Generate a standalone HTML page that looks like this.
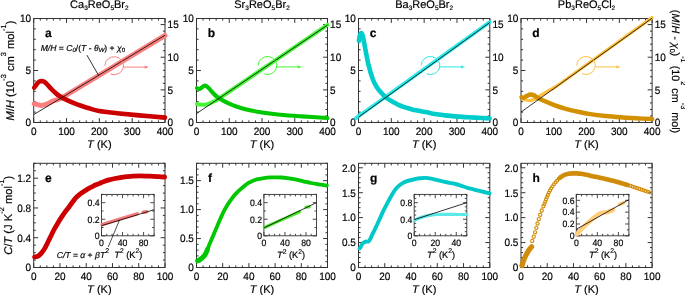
<!DOCTYPE html>
<html><head><meta charset="utf-8"><style>
html,body{margin:0;padding:0;background:#fff;width:685px;height:295px;overflow:hidden}
svg{display:block;font-family:"Liberation Sans", sans-serif;text-rendering:geometricPrecision;filter:blur(0.25px)}
text{stroke:#000;stroke-width:0.18px;paint-order:stroke}
</style></head><body>
<svg xmlns="http://www.w3.org/2000/svg" width="685" height="295" viewBox="0 0 685 295">
<rect width="685" height="295" fill="#fff"/>
<rect x="33.7" y="18.5" width="131.3" height="104" fill="none" stroke="#333" stroke-width="1.0"/>
<line x1="33.7" y1="122.5" x2="33.7" y2="118.1" stroke="#333" stroke-width="1.0" />
<line x1="33.7" y1="18.5" x2="33.7" y2="22.9" stroke="#333" stroke-width="1.0" />
<text transform="translate(33.7,134.8) scale(1,1.07)" font-size="10" text-anchor="middle" font-weight="normal" font-style="normal" fill="#000" >0</text>
<line x1="40.27" y1="122.5" x2="40.27" y2="120.4" stroke="#333" stroke-width="1.0" />
<line x1="40.27" y1="18.5" x2="40.27" y2="20.6" stroke="#333" stroke-width="1.0" />
<line x1="46.83" y1="122.5" x2="46.83" y2="120.4" stroke="#333" stroke-width="1.0" />
<line x1="46.83" y1="18.5" x2="46.83" y2="20.6" stroke="#333" stroke-width="1.0" />
<line x1="53.4" y1="122.5" x2="53.4" y2="120.4" stroke="#333" stroke-width="1.0" />
<line x1="53.4" y1="18.5" x2="53.4" y2="20.6" stroke="#333" stroke-width="1.0" />
<line x1="59.96" y1="122.5" x2="59.96" y2="120.4" stroke="#333" stroke-width="1.0" />
<line x1="59.96" y1="18.5" x2="59.96" y2="20.6" stroke="#333" stroke-width="1.0" />
<line x1="66.53" y1="122.5" x2="66.53" y2="118.1" stroke="#333" stroke-width="1.0" />
<line x1="66.53" y1="18.5" x2="66.53" y2="22.9" stroke="#333" stroke-width="1.0" />
<text transform="translate(66.53,134.8) scale(1,1.07)" font-size="10" text-anchor="middle" font-weight="normal" font-style="normal" fill="#000" >100</text>
<line x1="73.09" y1="122.5" x2="73.09" y2="120.4" stroke="#333" stroke-width="1.0" />
<line x1="73.09" y1="18.5" x2="73.09" y2="20.6" stroke="#333" stroke-width="1.0" />
<line x1="79.66" y1="122.5" x2="79.66" y2="120.4" stroke="#333" stroke-width="1.0" />
<line x1="79.66" y1="18.5" x2="79.66" y2="20.6" stroke="#333" stroke-width="1.0" />
<line x1="86.22" y1="122.5" x2="86.22" y2="120.4" stroke="#333" stroke-width="1.0" />
<line x1="86.22" y1="18.5" x2="86.22" y2="20.6" stroke="#333" stroke-width="1.0" />
<line x1="92.79" y1="122.5" x2="92.79" y2="120.4" stroke="#333" stroke-width="1.0" />
<line x1="92.79" y1="18.5" x2="92.79" y2="20.6" stroke="#333" stroke-width="1.0" />
<line x1="99.35" y1="122.5" x2="99.35" y2="118.1" stroke="#333" stroke-width="1.0" />
<line x1="99.35" y1="18.5" x2="99.35" y2="22.9" stroke="#333" stroke-width="1.0" />
<text transform="translate(99.35,134.8) scale(1,1.07)" font-size="10" text-anchor="middle" font-weight="normal" font-style="normal" fill="#000" >200</text>
<line x1="105.92" y1="122.5" x2="105.92" y2="120.4" stroke="#333" stroke-width="1.0" />
<line x1="105.92" y1="18.5" x2="105.92" y2="20.6" stroke="#333" stroke-width="1.0" />
<line x1="112.48" y1="122.5" x2="112.48" y2="120.4" stroke="#333" stroke-width="1.0" />
<line x1="112.48" y1="18.5" x2="112.48" y2="20.6" stroke="#333" stroke-width="1.0" />
<line x1="119.05" y1="122.5" x2="119.05" y2="120.4" stroke="#333" stroke-width="1.0" />
<line x1="119.05" y1="18.5" x2="119.05" y2="20.6" stroke="#333" stroke-width="1.0" />
<line x1="125.61" y1="122.5" x2="125.61" y2="120.4" stroke="#333" stroke-width="1.0" />
<line x1="125.61" y1="18.5" x2="125.61" y2="20.6" stroke="#333" stroke-width="1.0" />
<line x1="132.18" y1="122.5" x2="132.18" y2="118.1" stroke="#333" stroke-width="1.0" />
<line x1="132.18" y1="18.5" x2="132.18" y2="22.9" stroke="#333" stroke-width="1.0" />
<text transform="translate(132.18,134.8) scale(1,1.07)" font-size="10" text-anchor="middle" font-weight="normal" font-style="normal" fill="#000" >300</text>
<line x1="138.74" y1="122.5" x2="138.74" y2="120.4" stroke="#333" stroke-width="1.0" />
<line x1="138.74" y1="18.5" x2="138.74" y2="20.6" stroke="#333" stroke-width="1.0" />
<line x1="145.31" y1="122.5" x2="145.31" y2="120.4" stroke="#333" stroke-width="1.0" />
<line x1="145.31" y1="18.5" x2="145.31" y2="20.6" stroke="#333" stroke-width="1.0" />
<line x1="151.87" y1="122.5" x2="151.87" y2="120.4" stroke="#333" stroke-width="1.0" />
<line x1="151.87" y1="18.5" x2="151.87" y2="20.6" stroke="#333" stroke-width="1.0" />
<line x1="158.44" y1="122.5" x2="158.44" y2="120.4" stroke="#333" stroke-width="1.0" />
<line x1="158.44" y1="18.5" x2="158.44" y2="20.6" stroke="#333" stroke-width="1.0" />
<line x1="165" y1="122.5" x2="165" y2="118.1" stroke="#333" stroke-width="1.0" />
<line x1="165" y1="18.5" x2="165" y2="22.9" stroke="#333" stroke-width="1.0" />
<text transform="translate(165,134.8) scale(1,1.07)" font-size="10" text-anchor="middle" font-weight="normal" font-style="normal" fill="#000" >400</text>
<line x1="33.7" y1="122.5" x2="38.1" y2="122.5" stroke="#333" stroke-width="1.0" />
<text transform="translate(31.1,126.3) scale(1,1.07)" font-size="10" text-anchor="end" font-weight="normal" font-style="normal" fill="#000" >0</text>
<line x1="33.7" y1="112.1" x2="35.8" y2="112.1" stroke="#333" stroke-width="1.0" />
<line x1="33.7" y1="101.7" x2="35.8" y2="101.7" stroke="#333" stroke-width="1.0" />
<line x1="33.7" y1="91.3" x2="35.8" y2="91.3" stroke="#333" stroke-width="1.0" />
<line x1="33.7" y1="80.9" x2="35.8" y2="80.9" stroke="#333" stroke-width="1.0" />
<line x1="33.7" y1="70.5" x2="38.1" y2="70.5" stroke="#333" stroke-width="1.0" />
<text transform="translate(31.1,74.3) scale(1,1.07)" font-size="10" text-anchor="end" font-weight="normal" font-style="normal" fill="#000" >5</text>
<line x1="33.7" y1="60.1" x2="35.8" y2="60.1" stroke="#333" stroke-width="1.0" />
<line x1="33.7" y1="49.7" x2="35.8" y2="49.7" stroke="#333" stroke-width="1.0" />
<line x1="33.7" y1="39.3" x2="35.8" y2="39.3" stroke="#333" stroke-width="1.0" />
<line x1="33.7" y1="28.9" x2="35.8" y2="28.9" stroke="#333" stroke-width="1.0" />
<line x1="33.7" y1="18.5" x2="38.1" y2="18.5" stroke="#333" stroke-width="1.0" />
<text transform="translate(31.1,22.3) scale(1,1.07)" font-size="10" text-anchor="end" font-weight="normal" font-style="normal" fill="#000" >10</text>
<line x1="165" y1="122.5" x2="160.6" y2="122.5" stroke="#333" stroke-width="1.0" />
<text transform="translate(167.6,126.3) scale(1,1.07)" font-size="10" text-anchor="start" font-weight="normal" font-style="normal" fill="#000" >0</text>
<line x1="165" y1="115.97" x2="162.9" y2="115.97" stroke="#333" stroke-width="1.0" />
<line x1="165" y1="109.45" x2="162.9" y2="109.45" stroke="#333" stroke-width="1.0" />
<line x1="165" y1="102.92" x2="162.9" y2="102.92" stroke="#333" stroke-width="1.0" />
<line x1="165" y1="96.39" x2="162.9" y2="96.39" stroke="#333" stroke-width="1.0" />
<line x1="165" y1="89.87" x2="160.6" y2="89.87" stroke="#333" stroke-width="1.0" />
<text transform="translate(167.6,93.67) scale(1,1.07)" font-size="10" text-anchor="start" font-weight="normal" font-style="normal" fill="#000" >5</text>
<line x1="165" y1="83.34" x2="162.9" y2="83.34" stroke="#333" stroke-width="1.0" />
<line x1="165" y1="76.81" x2="162.9" y2="76.81" stroke="#333" stroke-width="1.0" />
<line x1="165" y1="70.29" x2="162.9" y2="70.29" stroke="#333" stroke-width="1.0" />
<line x1="165" y1="63.76" x2="162.9" y2="63.76" stroke="#333" stroke-width="1.0" />
<line x1="165" y1="57.23" x2="160.6" y2="57.23" stroke="#333" stroke-width="1.0" />
<text transform="translate(167.6,61.03) scale(1,1.07)" font-size="10" text-anchor="start" font-weight="normal" font-style="normal" fill="#000" >10</text>
<line x1="165" y1="50.71" x2="162.9" y2="50.71" stroke="#333" stroke-width="1.0" />
<line x1="165" y1="44.18" x2="162.9" y2="44.18" stroke="#333" stroke-width="1.0" />
<line x1="165" y1="37.65" x2="162.9" y2="37.65" stroke="#333" stroke-width="1.0" />
<line x1="165" y1="31.13" x2="162.9" y2="31.13" stroke="#333" stroke-width="1.0" />
<line x1="165" y1="24.6" x2="160.6" y2="24.6" stroke="#333" stroke-width="1.0" />
<text transform="translate(167.6,28.4) scale(1,1.07)" font-size="10" text-anchor="start" font-weight="normal" font-style="normal" fill="#000" >15</text>
<text x="99.35" y="7.9" font-size="11" text-anchor="middle" font-weight="normal" font-style="normal" fill="#000" >Ca<tspan font-size="6.5" dy="2.2">3</tspan><tspan dy="-2.2">ReO</tspan><tspan font-size="6.5" dy="2.2">5</tspan><tspan dy="-2.2">Br</tspan><tspan font-size="6.5" dy="2.2">2</tspan></text>
<text x="44.9" y="36.8" font-size="12" text-anchor="start" font-weight="bold" font-style="normal" fill="#000" >a</text>
<text x="99.35" y="147.6" font-size="11" text-anchor="middle" font-weight="normal" font-style="normal" fill="#000" ><tspan font-style="italic">T</tspan> (K)</text>
<rect x="196.5" y="18.5" width="131" height="104" fill="none" stroke="#333" stroke-width="1.0"/>
<line x1="196.5" y1="122.5" x2="196.5" y2="118.1" stroke="#333" stroke-width="1.0" />
<line x1="196.5" y1="18.5" x2="196.5" y2="22.9" stroke="#333" stroke-width="1.0" />
<text transform="translate(196.5,134.8) scale(1,1.07)" font-size="10" text-anchor="middle" font-weight="normal" font-style="normal" fill="#000" >0</text>
<line x1="203.05" y1="122.5" x2="203.05" y2="120.4" stroke="#333" stroke-width="1.0" />
<line x1="203.05" y1="18.5" x2="203.05" y2="20.6" stroke="#333" stroke-width="1.0" />
<line x1="209.6" y1="122.5" x2="209.6" y2="120.4" stroke="#333" stroke-width="1.0" />
<line x1="209.6" y1="18.5" x2="209.6" y2="20.6" stroke="#333" stroke-width="1.0" />
<line x1="216.15" y1="122.5" x2="216.15" y2="120.4" stroke="#333" stroke-width="1.0" />
<line x1="216.15" y1="18.5" x2="216.15" y2="20.6" stroke="#333" stroke-width="1.0" />
<line x1="222.7" y1="122.5" x2="222.7" y2="120.4" stroke="#333" stroke-width="1.0" />
<line x1="222.7" y1="18.5" x2="222.7" y2="20.6" stroke="#333" stroke-width="1.0" />
<line x1="229.25" y1="122.5" x2="229.25" y2="118.1" stroke="#333" stroke-width="1.0" />
<line x1="229.25" y1="18.5" x2="229.25" y2="22.9" stroke="#333" stroke-width="1.0" />
<text transform="translate(229.25,134.8) scale(1,1.07)" font-size="10" text-anchor="middle" font-weight="normal" font-style="normal" fill="#000" >100</text>
<line x1="235.8" y1="122.5" x2="235.8" y2="120.4" stroke="#333" stroke-width="1.0" />
<line x1="235.8" y1="18.5" x2="235.8" y2="20.6" stroke="#333" stroke-width="1.0" />
<line x1="242.35" y1="122.5" x2="242.35" y2="120.4" stroke="#333" stroke-width="1.0" />
<line x1="242.35" y1="18.5" x2="242.35" y2="20.6" stroke="#333" stroke-width="1.0" />
<line x1="248.9" y1="122.5" x2="248.9" y2="120.4" stroke="#333" stroke-width="1.0" />
<line x1="248.9" y1="18.5" x2="248.9" y2="20.6" stroke="#333" stroke-width="1.0" />
<line x1="255.45" y1="122.5" x2="255.45" y2="120.4" stroke="#333" stroke-width="1.0" />
<line x1="255.45" y1="18.5" x2="255.45" y2="20.6" stroke="#333" stroke-width="1.0" />
<line x1="262" y1="122.5" x2="262" y2="118.1" stroke="#333" stroke-width="1.0" />
<line x1="262" y1="18.5" x2="262" y2="22.9" stroke="#333" stroke-width="1.0" />
<text transform="translate(262,134.8) scale(1,1.07)" font-size="10" text-anchor="middle" font-weight="normal" font-style="normal" fill="#000" >200</text>
<line x1="268.55" y1="122.5" x2="268.55" y2="120.4" stroke="#333" stroke-width="1.0" />
<line x1="268.55" y1="18.5" x2="268.55" y2="20.6" stroke="#333" stroke-width="1.0" />
<line x1="275.1" y1="122.5" x2="275.1" y2="120.4" stroke="#333" stroke-width="1.0" />
<line x1="275.1" y1="18.5" x2="275.1" y2="20.6" stroke="#333" stroke-width="1.0" />
<line x1="281.65" y1="122.5" x2="281.65" y2="120.4" stroke="#333" stroke-width="1.0" />
<line x1="281.65" y1="18.5" x2="281.65" y2="20.6" stroke="#333" stroke-width="1.0" />
<line x1="288.2" y1="122.5" x2="288.2" y2="120.4" stroke="#333" stroke-width="1.0" />
<line x1="288.2" y1="18.5" x2="288.2" y2="20.6" stroke="#333" stroke-width="1.0" />
<line x1="294.75" y1="122.5" x2="294.75" y2="118.1" stroke="#333" stroke-width="1.0" />
<line x1="294.75" y1="18.5" x2="294.75" y2="22.9" stroke="#333" stroke-width="1.0" />
<text transform="translate(294.75,134.8) scale(1,1.07)" font-size="10" text-anchor="middle" font-weight="normal" font-style="normal" fill="#000" >300</text>
<line x1="301.3" y1="122.5" x2="301.3" y2="120.4" stroke="#333" stroke-width="1.0" />
<line x1="301.3" y1="18.5" x2="301.3" y2="20.6" stroke="#333" stroke-width="1.0" />
<line x1="307.85" y1="122.5" x2="307.85" y2="120.4" stroke="#333" stroke-width="1.0" />
<line x1="307.85" y1="18.5" x2="307.85" y2="20.6" stroke="#333" stroke-width="1.0" />
<line x1="314.4" y1="122.5" x2="314.4" y2="120.4" stroke="#333" stroke-width="1.0" />
<line x1="314.4" y1="18.5" x2="314.4" y2="20.6" stroke="#333" stroke-width="1.0" />
<line x1="320.95" y1="122.5" x2="320.95" y2="120.4" stroke="#333" stroke-width="1.0" />
<line x1="320.95" y1="18.5" x2="320.95" y2="20.6" stroke="#333" stroke-width="1.0" />
<line x1="327.5" y1="122.5" x2="327.5" y2="118.1" stroke="#333" stroke-width="1.0" />
<line x1="327.5" y1="18.5" x2="327.5" y2="22.9" stroke="#333" stroke-width="1.0" />
<text transform="translate(327.5,134.8) scale(1,1.07)" font-size="10" text-anchor="middle" font-weight="normal" font-style="normal" fill="#000" >400</text>
<line x1="196.5" y1="122.5" x2="200.9" y2="122.5" stroke="#333" stroke-width="1.0" />
<text transform="translate(193.9,126.3) scale(1,1.07)" font-size="10" text-anchor="end" font-weight="normal" font-style="normal" fill="#000" >0</text>
<line x1="196.5" y1="112.1" x2="198.6" y2="112.1" stroke="#333" stroke-width="1.0" />
<line x1="196.5" y1="101.7" x2="198.6" y2="101.7" stroke="#333" stroke-width="1.0" />
<line x1="196.5" y1="91.3" x2="198.6" y2="91.3" stroke="#333" stroke-width="1.0" />
<line x1="196.5" y1="80.9" x2="198.6" y2="80.9" stroke="#333" stroke-width="1.0" />
<line x1="196.5" y1="70.5" x2="200.9" y2="70.5" stroke="#333" stroke-width="1.0" />
<text transform="translate(193.9,74.3) scale(1,1.07)" font-size="10" text-anchor="end" font-weight="normal" font-style="normal" fill="#000" >5</text>
<line x1="196.5" y1="60.1" x2="198.6" y2="60.1" stroke="#333" stroke-width="1.0" />
<line x1="196.5" y1="49.7" x2="198.6" y2="49.7" stroke="#333" stroke-width="1.0" />
<line x1="196.5" y1="39.3" x2="198.6" y2="39.3" stroke="#333" stroke-width="1.0" />
<line x1="196.5" y1="28.9" x2="198.6" y2="28.9" stroke="#333" stroke-width="1.0" />
<line x1="196.5" y1="18.5" x2="200.9" y2="18.5" stroke="#333" stroke-width="1.0" />
<text transform="translate(193.9,22.3) scale(1,1.07)" font-size="10" text-anchor="end" font-weight="normal" font-style="normal" fill="#000" >10</text>
<line x1="327.5" y1="122.5" x2="323.1" y2="122.5" stroke="#333" stroke-width="1.0" />
<text transform="translate(330.1,126.3) scale(1,1.07)" font-size="10" text-anchor="start" font-weight="normal" font-style="normal" fill="#000" >0</text>
<line x1="327.5" y1="115.97" x2="325.4" y2="115.97" stroke="#333" stroke-width="1.0" />
<line x1="327.5" y1="109.45" x2="325.4" y2="109.45" stroke="#333" stroke-width="1.0" />
<line x1="327.5" y1="102.92" x2="325.4" y2="102.92" stroke="#333" stroke-width="1.0" />
<line x1="327.5" y1="96.39" x2="325.4" y2="96.39" stroke="#333" stroke-width="1.0" />
<line x1="327.5" y1="89.87" x2="323.1" y2="89.87" stroke="#333" stroke-width="1.0" />
<text transform="translate(330.1,93.67) scale(1,1.07)" font-size="10" text-anchor="start" font-weight="normal" font-style="normal" fill="#000" >5</text>
<line x1="327.5" y1="83.34" x2="325.4" y2="83.34" stroke="#333" stroke-width="1.0" />
<line x1="327.5" y1="76.81" x2="325.4" y2="76.81" stroke="#333" stroke-width="1.0" />
<line x1="327.5" y1="70.29" x2="325.4" y2="70.29" stroke="#333" stroke-width="1.0" />
<line x1="327.5" y1="63.76" x2="325.4" y2="63.76" stroke="#333" stroke-width="1.0" />
<line x1="327.5" y1="57.23" x2="323.1" y2="57.23" stroke="#333" stroke-width="1.0" />
<text transform="translate(330.1,61.03) scale(1,1.07)" font-size="10" text-anchor="start" font-weight="normal" font-style="normal" fill="#000" >10</text>
<line x1="327.5" y1="50.71" x2="325.4" y2="50.71" stroke="#333" stroke-width="1.0" />
<line x1="327.5" y1="44.18" x2="325.4" y2="44.18" stroke="#333" stroke-width="1.0" />
<line x1="327.5" y1="37.65" x2="325.4" y2="37.65" stroke="#333" stroke-width="1.0" />
<line x1="327.5" y1="31.13" x2="325.4" y2="31.13" stroke="#333" stroke-width="1.0" />
<line x1="327.5" y1="24.6" x2="323.1" y2="24.6" stroke="#333" stroke-width="1.0" />
<text transform="translate(330.1,28.4) scale(1,1.07)" font-size="10" text-anchor="start" font-weight="normal" font-style="normal" fill="#000" >15</text>
<text x="262" y="7.9" font-size="11" text-anchor="middle" font-weight="normal" font-style="normal" fill="#000" >Sr<tspan font-size="6.5" dy="2.2">3</tspan><tspan dy="-2.2">ReO</tspan><tspan font-size="6.5" dy="2.2">5</tspan><tspan dy="-2.2">Br</tspan><tspan font-size="6.5" dy="2.2">2</tspan></text>
<text x="207.7" y="36.8" font-size="12" text-anchor="start" font-weight="bold" font-style="normal" fill="#000" >b</text>
<text x="262" y="147.6" font-size="11" text-anchor="middle" font-weight="normal" font-style="normal" fill="#000" ><tspan font-style="italic">T</tspan> (K)</text>
<rect x="358.5" y="18.5" width="131.3" height="104" fill="none" stroke="#333" stroke-width="1.0"/>
<line x1="358.5" y1="122.5" x2="358.5" y2="118.1" stroke="#333" stroke-width="1.0" />
<line x1="358.5" y1="18.5" x2="358.5" y2="22.9" stroke="#333" stroke-width="1.0" />
<text transform="translate(358.5,134.8) scale(1,1.07)" font-size="10" text-anchor="middle" font-weight="normal" font-style="normal" fill="#000" >0</text>
<line x1="365.06" y1="122.5" x2="365.06" y2="120.4" stroke="#333" stroke-width="1.0" />
<line x1="365.06" y1="18.5" x2="365.06" y2="20.6" stroke="#333" stroke-width="1.0" />
<line x1="371.63" y1="122.5" x2="371.63" y2="120.4" stroke="#333" stroke-width="1.0" />
<line x1="371.63" y1="18.5" x2="371.63" y2="20.6" stroke="#333" stroke-width="1.0" />
<line x1="378.19" y1="122.5" x2="378.19" y2="120.4" stroke="#333" stroke-width="1.0" />
<line x1="378.19" y1="18.5" x2="378.19" y2="20.6" stroke="#333" stroke-width="1.0" />
<line x1="384.76" y1="122.5" x2="384.76" y2="120.4" stroke="#333" stroke-width="1.0" />
<line x1="384.76" y1="18.5" x2="384.76" y2="20.6" stroke="#333" stroke-width="1.0" />
<line x1="391.32" y1="122.5" x2="391.32" y2="118.1" stroke="#333" stroke-width="1.0" />
<line x1="391.32" y1="18.5" x2="391.32" y2="22.9" stroke="#333" stroke-width="1.0" />
<text transform="translate(391.32,134.8) scale(1,1.07)" font-size="10" text-anchor="middle" font-weight="normal" font-style="normal" fill="#000" >100</text>
<line x1="397.89" y1="122.5" x2="397.89" y2="120.4" stroke="#333" stroke-width="1.0" />
<line x1="397.89" y1="18.5" x2="397.89" y2="20.6" stroke="#333" stroke-width="1.0" />
<line x1="404.45" y1="122.5" x2="404.45" y2="120.4" stroke="#333" stroke-width="1.0" />
<line x1="404.45" y1="18.5" x2="404.45" y2="20.6" stroke="#333" stroke-width="1.0" />
<line x1="411.02" y1="122.5" x2="411.02" y2="120.4" stroke="#333" stroke-width="1.0" />
<line x1="411.02" y1="18.5" x2="411.02" y2="20.6" stroke="#333" stroke-width="1.0" />
<line x1="417.59" y1="122.5" x2="417.59" y2="120.4" stroke="#333" stroke-width="1.0" />
<line x1="417.59" y1="18.5" x2="417.59" y2="20.6" stroke="#333" stroke-width="1.0" />
<line x1="424.15" y1="122.5" x2="424.15" y2="118.1" stroke="#333" stroke-width="1.0" />
<line x1="424.15" y1="18.5" x2="424.15" y2="22.9" stroke="#333" stroke-width="1.0" />
<text transform="translate(424.15,134.8) scale(1,1.07)" font-size="10" text-anchor="middle" font-weight="normal" font-style="normal" fill="#000" >200</text>
<line x1="430.72" y1="122.5" x2="430.72" y2="120.4" stroke="#333" stroke-width="1.0" />
<line x1="430.72" y1="18.5" x2="430.72" y2="20.6" stroke="#333" stroke-width="1.0" />
<line x1="437.28" y1="122.5" x2="437.28" y2="120.4" stroke="#333" stroke-width="1.0" />
<line x1="437.28" y1="18.5" x2="437.28" y2="20.6" stroke="#333" stroke-width="1.0" />
<line x1="443.85" y1="122.5" x2="443.85" y2="120.4" stroke="#333" stroke-width="1.0" />
<line x1="443.85" y1="18.5" x2="443.85" y2="20.6" stroke="#333" stroke-width="1.0" />
<line x1="450.41" y1="122.5" x2="450.41" y2="120.4" stroke="#333" stroke-width="1.0" />
<line x1="450.41" y1="18.5" x2="450.41" y2="20.6" stroke="#333" stroke-width="1.0" />
<line x1="456.98" y1="122.5" x2="456.98" y2="118.1" stroke="#333" stroke-width="1.0" />
<line x1="456.98" y1="18.5" x2="456.98" y2="22.9" stroke="#333" stroke-width="1.0" />
<text transform="translate(456.98,134.8) scale(1,1.07)" font-size="10" text-anchor="middle" font-weight="normal" font-style="normal" fill="#000" >300</text>
<line x1="463.54" y1="122.5" x2="463.54" y2="120.4" stroke="#333" stroke-width="1.0" />
<line x1="463.54" y1="18.5" x2="463.54" y2="20.6" stroke="#333" stroke-width="1.0" />
<line x1="470.11" y1="122.5" x2="470.11" y2="120.4" stroke="#333" stroke-width="1.0" />
<line x1="470.11" y1="18.5" x2="470.11" y2="20.6" stroke="#333" stroke-width="1.0" />
<line x1="476.67" y1="122.5" x2="476.67" y2="120.4" stroke="#333" stroke-width="1.0" />
<line x1="476.67" y1="18.5" x2="476.67" y2="20.6" stroke="#333" stroke-width="1.0" />
<line x1="483.24" y1="122.5" x2="483.24" y2="120.4" stroke="#333" stroke-width="1.0" />
<line x1="483.24" y1="18.5" x2="483.24" y2="20.6" stroke="#333" stroke-width="1.0" />
<line x1="489.8" y1="122.5" x2="489.8" y2="118.1" stroke="#333" stroke-width="1.0" />
<line x1="489.8" y1="18.5" x2="489.8" y2="22.9" stroke="#333" stroke-width="1.0" />
<text transform="translate(489.8,134.8) scale(1,1.07)" font-size="10" text-anchor="middle" font-weight="normal" font-style="normal" fill="#000" >400</text>
<line x1="358.5" y1="122.5" x2="362.9" y2="122.5" stroke="#333" stroke-width="1.0" />
<text transform="translate(355.9,126.3) scale(1,1.07)" font-size="10" text-anchor="end" font-weight="normal" font-style="normal" fill="#000" >0</text>
<line x1="358.5" y1="112.1" x2="360.6" y2="112.1" stroke="#333" stroke-width="1.0" />
<line x1="358.5" y1="101.7" x2="360.6" y2="101.7" stroke="#333" stroke-width="1.0" />
<line x1="358.5" y1="91.3" x2="360.6" y2="91.3" stroke="#333" stroke-width="1.0" />
<line x1="358.5" y1="80.9" x2="360.6" y2="80.9" stroke="#333" stroke-width="1.0" />
<line x1="358.5" y1="70.5" x2="362.9" y2="70.5" stroke="#333" stroke-width="1.0" />
<text transform="translate(355.9,74.3) scale(1,1.07)" font-size="10" text-anchor="end" font-weight="normal" font-style="normal" fill="#000" >5</text>
<line x1="358.5" y1="60.1" x2="360.6" y2="60.1" stroke="#333" stroke-width="1.0" />
<line x1="358.5" y1="49.7" x2="360.6" y2="49.7" stroke="#333" stroke-width="1.0" />
<line x1="358.5" y1="39.3" x2="360.6" y2="39.3" stroke="#333" stroke-width="1.0" />
<line x1="358.5" y1="28.9" x2="360.6" y2="28.9" stroke="#333" stroke-width="1.0" />
<line x1="358.5" y1="18.5" x2="362.9" y2="18.5" stroke="#333" stroke-width="1.0" />
<text transform="translate(355.9,22.3) scale(1,1.07)" font-size="10" text-anchor="end" font-weight="normal" font-style="normal" fill="#000" >10</text>
<line x1="489.8" y1="122.5" x2="485.4" y2="122.5" stroke="#333" stroke-width="1.0" />
<text transform="translate(492.4,126.3) scale(1,1.07)" font-size="10" text-anchor="start" font-weight="normal" font-style="normal" fill="#000" >0</text>
<line x1="489.8" y1="115.97" x2="487.7" y2="115.97" stroke="#333" stroke-width="1.0" />
<line x1="489.8" y1="109.45" x2="487.7" y2="109.45" stroke="#333" stroke-width="1.0" />
<line x1="489.8" y1="102.92" x2="487.7" y2="102.92" stroke="#333" stroke-width="1.0" />
<line x1="489.8" y1="96.39" x2="487.7" y2="96.39" stroke="#333" stroke-width="1.0" />
<line x1="489.8" y1="89.87" x2="485.4" y2="89.87" stroke="#333" stroke-width="1.0" />
<text transform="translate(492.4,93.67) scale(1,1.07)" font-size="10" text-anchor="start" font-weight="normal" font-style="normal" fill="#000" >5</text>
<line x1="489.8" y1="83.34" x2="487.7" y2="83.34" stroke="#333" stroke-width="1.0" />
<line x1="489.8" y1="76.81" x2="487.7" y2="76.81" stroke="#333" stroke-width="1.0" />
<line x1="489.8" y1="70.29" x2="487.7" y2="70.29" stroke="#333" stroke-width="1.0" />
<line x1="489.8" y1="63.76" x2="487.7" y2="63.76" stroke="#333" stroke-width="1.0" />
<line x1="489.8" y1="57.23" x2="485.4" y2="57.23" stroke="#333" stroke-width="1.0" />
<text transform="translate(492.4,61.03) scale(1,1.07)" font-size="10" text-anchor="start" font-weight="normal" font-style="normal" fill="#000" >10</text>
<line x1="489.8" y1="50.71" x2="487.7" y2="50.71" stroke="#333" stroke-width="1.0" />
<line x1="489.8" y1="44.18" x2="487.7" y2="44.18" stroke="#333" stroke-width="1.0" />
<line x1="489.8" y1="37.65" x2="487.7" y2="37.65" stroke="#333" stroke-width="1.0" />
<line x1="489.8" y1="31.13" x2="487.7" y2="31.13" stroke="#333" stroke-width="1.0" />
<line x1="489.8" y1="24.6" x2="485.4" y2="24.6" stroke="#333" stroke-width="1.0" />
<text transform="translate(492.4,28.4) scale(1,1.07)" font-size="10" text-anchor="start" font-weight="normal" font-style="normal" fill="#000" >15</text>
<text x="424.15" y="7.9" font-size="11" text-anchor="middle" font-weight="normal" font-style="normal" fill="#000" >Ba<tspan font-size="6.5" dy="2.2">3</tspan><tspan dy="-2.2">ReO</tspan><tspan font-size="6.5" dy="2.2">5</tspan><tspan dy="-2.2">Br</tspan><tspan font-size="6.5" dy="2.2">2</tspan></text>
<text x="369.7" y="36.8" font-size="12" text-anchor="start" font-weight="bold" font-style="normal" fill="#000" >c</text>
<text x="424.15" y="147.6" font-size="11" text-anchor="middle" font-weight="normal" font-style="normal" fill="#000" ><tspan font-style="italic">T</tspan> (K)</text>
<rect x="521" y="18.5" width="131.1" height="104" fill="none" stroke="#333" stroke-width="1.0"/>
<line x1="521" y1="122.5" x2="521" y2="118.1" stroke="#333" stroke-width="1.0" />
<line x1="521" y1="18.5" x2="521" y2="22.9" stroke="#333" stroke-width="1.0" />
<text transform="translate(521,134.8) scale(1,1.07)" font-size="10" text-anchor="middle" font-weight="normal" font-style="normal" fill="#000" >0</text>
<line x1="527.55" y1="122.5" x2="527.55" y2="120.4" stroke="#333" stroke-width="1.0" />
<line x1="527.55" y1="18.5" x2="527.55" y2="20.6" stroke="#333" stroke-width="1.0" />
<line x1="534.11" y1="122.5" x2="534.11" y2="120.4" stroke="#333" stroke-width="1.0" />
<line x1="534.11" y1="18.5" x2="534.11" y2="20.6" stroke="#333" stroke-width="1.0" />
<line x1="540.66" y1="122.5" x2="540.66" y2="120.4" stroke="#333" stroke-width="1.0" />
<line x1="540.66" y1="18.5" x2="540.66" y2="20.6" stroke="#333" stroke-width="1.0" />
<line x1="547.22" y1="122.5" x2="547.22" y2="120.4" stroke="#333" stroke-width="1.0" />
<line x1="547.22" y1="18.5" x2="547.22" y2="20.6" stroke="#333" stroke-width="1.0" />
<line x1="553.77" y1="122.5" x2="553.77" y2="118.1" stroke="#333" stroke-width="1.0" />
<line x1="553.77" y1="18.5" x2="553.77" y2="22.9" stroke="#333" stroke-width="1.0" />
<text transform="translate(553.77,134.8) scale(1,1.07)" font-size="10" text-anchor="middle" font-weight="normal" font-style="normal" fill="#000" >100</text>
<line x1="560.33" y1="122.5" x2="560.33" y2="120.4" stroke="#333" stroke-width="1.0" />
<line x1="560.33" y1="18.5" x2="560.33" y2="20.6" stroke="#333" stroke-width="1.0" />
<line x1="566.88" y1="122.5" x2="566.88" y2="120.4" stroke="#333" stroke-width="1.0" />
<line x1="566.88" y1="18.5" x2="566.88" y2="20.6" stroke="#333" stroke-width="1.0" />
<line x1="573.44" y1="122.5" x2="573.44" y2="120.4" stroke="#333" stroke-width="1.0" />
<line x1="573.44" y1="18.5" x2="573.44" y2="20.6" stroke="#333" stroke-width="1.0" />
<line x1="580" y1="122.5" x2="580" y2="120.4" stroke="#333" stroke-width="1.0" />
<line x1="580" y1="18.5" x2="580" y2="20.6" stroke="#333" stroke-width="1.0" />
<line x1="586.55" y1="122.5" x2="586.55" y2="118.1" stroke="#333" stroke-width="1.0" />
<line x1="586.55" y1="18.5" x2="586.55" y2="22.9" stroke="#333" stroke-width="1.0" />
<text transform="translate(586.55,134.8) scale(1,1.07)" font-size="10" text-anchor="middle" font-weight="normal" font-style="normal" fill="#000" >200</text>
<line x1="593.11" y1="122.5" x2="593.11" y2="120.4" stroke="#333" stroke-width="1.0" />
<line x1="593.11" y1="18.5" x2="593.11" y2="20.6" stroke="#333" stroke-width="1.0" />
<line x1="599.66" y1="122.5" x2="599.66" y2="120.4" stroke="#333" stroke-width="1.0" />
<line x1="599.66" y1="18.5" x2="599.66" y2="20.6" stroke="#333" stroke-width="1.0" />
<line x1="606.22" y1="122.5" x2="606.22" y2="120.4" stroke="#333" stroke-width="1.0" />
<line x1="606.22" y1="18.5" x2="606.22" y2="20.6" stroke="#333" stroke-width="1.0" />
<line x1="612.77" y1="122.5" x2="612.77" y2="120.4" stroke="#333" stroke-width="1.0" />
<line x1="612.77" y1="18.5" x2="612.77" y2="20.6" stroke="#333" stroke-width="1.0" />
<line x1="619.33" y1="122.5" x2="619.33" y2="118.1" stroke="#333" stroke-width="1.0" />
<line x1="619.33" y1="18.5" x2="619.33" y2="22.9" stroke="#333" stroke-width="1.0" />
<text transform="translate(619.33,134.8) scale(1,1.07)" font-size="10" text-anchor="middle" font-weight="normal" font-style="normal" fill="#000" >300</text>
<line x1="625.88" y1="122.5" x2="625.88" y2="120.4" stroke="#333" stroke-width="1.0" />
<line x1="625.88" y1="18.5" x2="625.88" y2="20.6" stroke="#333" stroke-width="1.0" />
<line x1="632.44" y1="122.5" x2="632.44" y2="120.4" stroke="#333" stroke-width="1.0" />
<line x1="632.44" y1="18.5" x2="632.44" y2="20.6" stroke="#333" stroke-width="1.0" />
<line x1="638.99" y1="122.5" x2="638.99" y2="120.4" stroke="#333" stroke-width="1.0" />
<line x1="638.99" y1="18.5" x2="638.99" y2="20.6" stroke="#333" stroke-width="1.0" />
<line x1="645.55" y1="122.5" x2="645.55" y2="120.4" stroke="#333" stroke-width="1.0" />
<line x1="645.55" y1="18.5" x2="645.55" y2="20.6" stroke="#333" stroke-width="1.0" />
<line x1="652.1" y1="122.5" x2="652.1" y2="118.1" stroke="#333" stroke-width="1.0" />
<line x1="652.1" y1="18.5" x2="652.1" y2="22.9" stroke="#333" stroke-width="1.0" />
<text transform="translate(652.1,134.8) scale(1,1.07)" font-size="10" text-anchor="middle" font-weight="normal" font-style="normal" fill="#000" >400</text>
<line x1="521" y1="122.5" x2="525.4" y2="122.5" stroke="#333" stroke-width="1.0" />
<text transform="translate(518.4,126.3) scale(1,1.07)" font-size="10" text-anchor="end" font-weight="normal" font-style="normal" fill="#000" >0</text>
<line x1="521" y1="112.1" x2="523.1" y2="112.1" stroke="#333" stroke-width="1.0" />
<line x1="521" y1="101.7" x2="523.1" y2="101.7" stroke="#333" stroke-width="1.0" />
<line x1="521" y1="91.3" x2="523.1" y2="91.3" stroke="#333" stroke-width="1.0" />
<line x1="521" y1="80.9" x2="523.1" y2="80.9" stroke="#333" stroke-width="1.0" />
<line x1="521" y1="70.5" x2="525.4" y2="70.5" stroke="#333" stroke-width="1.0" />
<text transform="translate(518.4,74.3) scale(1,1.07)" font-size="10" text-anchor="end" font-weight="normal" font-style="normal" fill="#000" >5</text>
<line x1="521" y1="60.1" x2="523.1" y2="60.1" stroke="#333" stroke-width="1.0" />
<line x1="521" y1="49.7" x2="523.1" y2="49.7" stroke="#333" stroke-width="1.0" />
<line x1="521" y1="39.3" x2="523.1" y2="39.3" stroke="#333" stroke-width="1.0" />
<line x1="521" y1="28.9" x2="523.1" y2="28.9" stroke="#333" stroke-width="1.0" />
<line x1="521" y1="18.5" x2="525.4" y2="18.5" stroke="#333" stroke-width="1.0" />
<text transform="translate(518.4,22.3) scale(1,1.07)" font-size="10" text-anchor="end" font-weight="normal" font-style="normal" fill="#000" >10</text>
<line x1="652.1" y1="122.5" x2="647.7" y2="122.5" stroke="#333" stroke-width="1.0" />
<text transform="translate(654.7,126.3) scale(1,1.07)" font-size="10" text-anchor="start" font-weight="normal" font-style="normal" fill="#000" >0</text>
<line x1="652.1" y1="115.97" x2="650" y2="115.97" stroke="#333" stroke-width="1.0" />
<line x1="652.1" y1="109.45" x2="650" y2="109.45" stroke="#333" stroke-width="1.0" />
<line x1="652.1" y1="102.92" x2="650" y2="102.92" stroke="#333" stroke-width="1.0" />
<line x1="652.1" y1="96.39" x2="650" y2="96.39" stroke="#333" stroke-width="1.0" />
<line x1="652.1" y1="89.87" x2="647.7" y2="89.87" stroke="#333" stroke-width="1.0" />
<text transform="translate(654.7,93.67) scale(1,1.07)" font-size="10" text-anchor="start" font-weight="normal" font-style="normal" fill="#000" >5</text>
<line x1="652.1" y1="83.34" x2="650" y2="83.34" stroke="#333" stroke-width="1.0" />
<line x1="652.1" y1="76.81" x2="650" y2="76.81" stroke="#333" stroke-width="1.0" />
<line x1="652.1" y1="70.29" x2="650" y2="70.29" stroke="#333" stroke-width="1.0" />
<line x1="652.1" y1="63.76" x2="650" y2="63.76" stroke="#333" stroke-width="1.0" />
<line x1="652.1" y1="57.23" x2="647.7" y2="57.23" stroke="#333" stroke-width="1.0" />
<text transform="translate(654.7,61.03) scale(1,1.07)" font-size="10" text-anchor="start" font-weight="normal" font-style="normal" fill="#000" >10</text>
<line x1="652.1" y1="50.71" x2="650" y2="50.71" stroke="#333" stroke-width="1.0" />
<line x1="652.1" y1="44.18" x2="650" y2="44.18" stroke="#333" stroke-width="1.0" />
<line x1="652.1" y1="37.65" x2="650" y2="37.65" stroke="#333" stroke-width="1.0" />
<line x1="652.1" y1="31.13" x2="650" y2="31.13" stroke="#333" stroke-width="1.0" />
<line x1="652.1" y1="24.6" x2="647.7" y2="24.6" stroke="#333" stroke-width="1.0" />
<text transform="translate(654.7,28.4) scale(1,1.07)" font-size="10" text-anchor="start" font-weight="normal" font-style="normal" fill="#000" >15</text>
<text x="586.55" y="7.9" font-size="11" text-anchor="middle" font-weight="normal" font-style="normal" fill="#000" >Pb<tspan font-size="6.5" dy="2.2">3</tspan><tspan dy="-2.2">ReO</tspan><tspan font-size="6.5" dy="2.2">5</tspan><tspan dy="-2.2">Cl</tspan><tspan font-size="6.5" dy="2.2">2</tspan></text>
<text x="532.2" y="36.8" font-size="12" text-anchor="start" font-weight="bold" font-style="normal" fill="#000" >d</text>
<text x="586.55" y="147.6" font-size="11" text-anchor="middle" font-weight="normal" font-style="normal" fill="#000" ><tspan font-style="italic">T</tspan> (K)</text>
<rect x="33.7" y="163.3" width="131.3" height="104.2" fill="none" stroke="#333" stroke-width="1.0"/>
<line x1="33.7" y1="267.5" x2="33.7" y2="263.1" stroke="#333" stroke-width="1.0" />
<line x1="33.7" y1="163.3" x2="33.7" y2="167.7" stroke="#333" stroke-width="1.0" />
<text transform="translate(33.7,279.8) scale(1,1.07)" font-size="10" text-anchor="middle" font-weight="normal" font-style="normal" fill="#000" >0</text>
<line x1="40.27" y1="267.5" x2="40.27" y2="265.4" stroke="#333" stroke-width="1.0" />
<line x1="40.27" y1="163.3" x2="40.27" y2="165.4" stroke="#333" stroke-width="1.0" />
<line x1="46.83" y1="267.5" x2="46.83" y2="265.4" stroke="#333" stroke-width="1.0" />
<line x1="46.83" y1="163.3" x2="46.83" y2="165.4" stroke="#333" stroke-width="1.0" />
<line x1="53.4" y1="267.5" x2="53.4" y2="265.4" stroke="#333" stroke-width="1.0" />
<line x1="53.4" y1="163.3" x2="53.4" y2="165.4" stroke="#333" stroke-width="1.0" />
<line x1="59.96" y1="267.5" x2="59.96" y2="263.1" stroke="#333" stroke-width="1.0" />
<line x1="59.96" y1="163.3" x2="59.96" y2="167.7" stroke="#333" stroke-width="1.0" />
<text transform="translate(59.96,279.8) scale(1,1.07)" font-size="10" text-anchor="middle" font-weight="normal" font-style="normal" fill="#000" >20</text>
<line x1="66.53" y1="267.5" x2="66.53" y2="265.4" stroke="#333" stroke-width="1.0" />
<line x1="66.53" y1="163.3" x2="66.53" y2="165.4" stroke="#333" stroke-width="1.0" />
<line x1="73.09" y1="267.5" x2="73.09" y2="265.4" stroke="#333" stroke-width="1.0" />
<line x1="73.09" y1="163.3" x2="73.09" y2="165.4" stroke="#333" stroke-width="1.0" />
<line x1="79.66" y1="267.5" x2="79.66" y2="265.4" stroke="#333" stroke-width="1.0" />
<line x1="79.66" y1="163.3" x2="79.66" y2="165.4" stroke="#333" stroke-width="1.0" />
<line x1="86.22" y1="267.5" x2="86.22" y2="263.1" stroke="#333" stroke-width="1.0" />
<line x1="86.22" y1="163.3" x2="86.22" y2="167.7" stroke="#333" stroke-width="1.0" />
<text transform="translate(86.22,279.8) scale(1,1.07)" font-size="10" text-anchor="middle" font-weight="normal" font-style="normal" fill="#000" >40</text>
<line x1="92.79" y1="267.5" x2="92.79" y2="265.4" stroke="#333" stroke-width="1.0" />
<line x1="92.79" y1="163.3" x2="92.79" y2="165.4" stroke="#333" stroke-width="1.0" />
<line x1="99.35" y1="267.5" x2="99.35" y2="265.4" stroke="#333" stroke-width="1.0" />
<line x1="99.35" y1="163.3" x2="99.35" y2="165.4" stroke="#333" stroke-width="1.0" />
<line x1="105.92" y1="267.5" x2="105.92" y2="265.4" stroke="#333" stroke-width="1.0" />
<line x1="105.92" y1="163.3" x2="105.92" y2="165.4" stroke="#333" stroke-width="1.0" />
<line x1="112.48" y1="267.5" x2="112.48" y2="263.1" stroke="#333" stroke-width="1.0" />
<line x1="112.48" y1="163.3" x2="112.48" y2="167.7" stroke="#333" stroke-width="1.0" />
<text transform="translate(112.48,279.8) scale(1,1.07)" font-size="10" text-anchor="middle" font-weight="normal" font-style="normal" fill="#000" >60</text>
<line x1="119.05" y1="267.5" x2="119.05" y2="265.4" stroke="#333" stroke-width="1.0" />
<line x1="119.05" y1="163.3" x2="119.05" y2="165.4" stroke="#333" stroke-width="1.0" />
<line x1="125.61" y1="267.5" x2="125.61" y2="265.4" stroke="#333" stroke-width="1.0" />
<line x1="125.61" y1="163.3" x2="125.61" y2="165.4" stroke="#333" stroke-width="1.0" />
<line x1="132.18" y1="267.5" x2="132.18" y2="265.4" stroke="#333" stroke-width="1.0" />
<line x1="132.18" y1="163.3" x2="132.18" y2="165.4" stroke="#333" stroke-width="1.0" />
<line x1="138.74" y1="267.5" x2="138.74" y2="263.1" stroke="#333" stroke-width="1.0" />
<line x1="138.74" y1="163.3" x2="138.74" y2="167.7" stroke="#333" stroke-width="1.0" />
<text transform="translate(138.74,279.8) scale(1,1.07)" font-size="10" text-anchor="middle" font-weight="normal" font-style="normal" fill="#000" >80</text>
<line x1="145.31" y1="267.5" x2="145.31" y2="265.4" stroke="#333" stroke-width="1.0" />
<line x1="145.31" y1="163.3" x2="145.31" y2="165.4" stroke="#333" stroke-width="1.0" />
<line x1="151.87" y1="267.5" x2="151.87" y2="265.4" stroke="#333" stroke-width="1.0" />
<line x1="151.87" y1="163.3" x2="151.87" y2="165.4" stroke="#333" stroke-width="1.0" />
<line x1="158.44" y1="267.5" x2="158.44" y2="265.4" stroke="#333" stroke-width="1.0" />
<line x1="158.44" y1="163.3" x2="158.44" y2="165.4" stroke="#333" stroke-width="1.0" />
<line x1="165" y1="267.5" x2="165" y2="263.1" stroke="#333" stroke-width="1.0" />
<line x1="165" y1="163.3" x2="165" y2="167.7" stroke="#333" stroke-width="1.0" />
<text transform="translate(165,279.8) scale(1,1.07)" font-size="10" text-anchor="middle" font-weight="normal" font-style="normal" fill="#000" >100</text>
<line x1="33.7" y1="267.5" x2="38.1" y2="267.5" stroke="#333" stroke-width="1.0" />
<line x1="165" y1="267.5" x2="160.6" y2="267.5" stroke="#333" stroke-width="1.0" />
<text transform="translate(31.1,271.3) scale(1,1.07)" font-size="10" text-anchor="end" font-weight="normal" font-style="normal" fill="#000" >0</text>
<line x1="33.7" y1="260.06" x2="35.8" y2="260.06" stroke="#333" stroke-width="1.0" />
<line x1="165" y1="260.06" x2="162.9" y2="260.06" stroke="#333" stroke-width="1.0" />
<line x1="33.7" y1="252.61" x2="35.8" y2="252.61" stroke="#333" stroke-width="1.0" />
<line x1="165" y1="252.61" x2="162.9" y2="252.61" stroke="#333" stroke-width="1.0" />
<line x1="33.7" y1="245.17" x2="35.8" y2="245.17" stroke="#333" stroke-width="1.0" />
<line x1="165" y1="245.17" x2="162.9" y2="245.17" stroke="#333" stroke-width="1.0" />
<line x1="33.7" y1="237.73" x2="38.1" y2="237.73" stroke="#333" stroke-width="1.0" />
<line x1="165" y1="237.73" x2="160.6" y2="237.73" stroke="#333" stroke-width="1.0" />
<text transform="translate(31.1,241.53) scale(1,1.07)" font-size="10" text-anchor="end" font-weight="normal" font-style="normal" fill="#000" >0.4</text>
<line x1="33.7" y1="230.29" x2="35.8" y2="230.29" stroke="#333" stroke-width="1.0" />
<line x1="165" y1="230.29" x2="162.9" y2="230.29" stroke="#333" stroke-width="1.0" />
<line x1="33.7" y1="222.84" x2="35.8" y2="222.84" stroke="#333" stroke-width="1.0" />
<line x1="165" y1="222.84" x2="162.9" y2="222.84" stroke="#333" stroke-width="1.0" />
<line x1="33.7" y1="215.4" x2="35.8" y2="215.4" stroke="#333" stroke-width="1.0" />
<line x1="165" y1="215.4" x2="162.9" y2="215.4" stroke="#333" stroke-width="1.0" />
<line x1="33.7" y1="207.96" x2="38.1" y2="207.96" stroke="#333" stroke-width="1.0" />
<line x1="165" y1="207.96" x2="160.6" y2="207.96" stroke="#333" stroke-width="1.0" />
<text transform="translate(31.1,211.76) scale(1,1.07)" font-size="10" text-anchor="end" font-weight="normal" font-style="normal" fill="#000" >0.8</text>
<line x1="33.7" y1="200.51" x2="35.8" y2="200.51" stroke="#333" stroke-width="1.0" />
<line x1="165" y1="200.51" x2="162.9" y2="200.51" stroke="#333" stroke-width="1.0" />
<line x1="33.7" y1="193.07" x2="35.8" y2="193.07" stroke="#333" stroke-width="1.0" />
<line x1="165" y1="193.07" x2="162.9" y2="193.07" stroke="#333" stroke-width="1.0" />
<line x1="33.7" y1="185.63" x2="35.8" y2="185.63" stroke="#333" stroke-width="1.0" />
<line x1="165" y1="185.63" x2="162.9" y2="185.63" stroke="#333" stroke-width="1.0" />
<line x1="33.7" y1="178.19" x2="38.1" y2="178.19" stroke="#333" stroke-width="1.0" />
<line x1="165" y1="178.19" x2="160.6" y2="178.19" stroke="#333" stroke-width="1.0" />
<text transform="translate(31.1,181.98) scale(1,1.07)" font-size="10" text-anchor="end" font-weight="normal" font-style="normal" fill="#000" >1.2</text>
<line x1="33.7" y1="170.74" x2="35.8" y2="170.74" stroke="#333" stroke-width="1.0" />
<line x1="165" y1="170.74" x2="162.9" y2="170.74" stroke="#333" stroke-width="1.0" />
<line x1="33.7" y1="163.3" x2="35.8" y2="163.3" stroke="#333" stroke-width="1.0" />
<line x1="165" y1="163.3" x2="162.9" y2="163.3" stroke="#333" stroke-width="1.0" />
<text x="45.1" y="182.3" font-size="12" text-anchor="start" font-weight="bold" font-style="normal" fill="#000" >e</text>
<text x="99.35" y="292.8" font-size="11" text-anchor="middle" font-weight="normal" font-style="normal" fill="#000" ><tspan font-style="italic">T</tspan> (K)</text>
<rect x="196.5" y="163.3" width="131" height="104.2" fill="none" stroke="#333" stroke-width="1.0"/>
<line x1="196.5" y1="267.5" x2="196.5" y2="263.1" stroke="#333" stroke-width="1.0" />
<line x1="196.5" y1="163.3" x2="196.5" y2="167.7" stroke="#333" stroke-width="1.0" />
<text transform="translate(196.5,279.8) scale(1,1.07)" font-size="10" text-anchor="middle" font-weight="normal" font-style="normal" fill="#000" >0</text>
<line x1="203.05" y1="267.5" x2="203.05" y2="265.4" stroke="#333" stroke-width="1.0" />
<line x1="203.05" y1="163.3" x2="203.05" y2="165.4" stroke="#333" stroke-width="1.0" />
<line x1="209.6" y1="267.5" x2="209.6" y2="265.4" stroke="#333" stroke-width="1.0" />
<line x1="209.6" y1="163.3" x2="209.6" y2="165.4" stroke="#333" stroke-width="1.0" />
<line x1="216.15" y1="267.5" x2="216.15" y2="265.4" stroke="#333" stroke-width="1.0" />
<line x1="216.15" y1="163.3" x2="216.15" y2="165.4" stroke="#333" stroke-width="1.0" />
<line x1="222.7" y1="267.5" x2="222.7" y2="263.1" stroke="#333" stroke-width="1.0" />
<line x1="222.7" y1="163.3" x2="222.7" y2="167.7" stroke="#333" stroke-width="1.0" />
<text transform="translate(222.7,279.8) scale(1,1.07)" font-size="10" text-anchor="middle" font-weight="normal" font-style="normal" fill="#000" >20</text>
<line x1="229.25" y1="267.5" x2="229.25" y2="265.4" stroke="#333" stroke-width="1.0" />
<line x1="229.25" y1="163.3" x2="229.25" y2="165.4" stroke="#333" stroke-width="1.0" />
<line x1="235.8" y1="267.5" x2="235.8" y2="265.4" stroke="#333" stroke-width="1.0" />
<line x1="235.8" y1="163.3" x2="235.8" y2="165.4" stroke="#333" stroke-width="1.0" />
<line x1="242.35" y1="267.5" x2="242.35" y2="265.4" stroke="#333" stroke-width="1.0" />
<line x1="242.35" y1="163.3" x2="242.35" y2="165.4" stroke="#333" stroke-width="1.0" />
<line x1="248.9" y1="267.5" x2="248.9" y2="263.1" stroke="#333" stroke-width="1.0" />
<line x1="248.9" y1="163.3" x2="248.9" y2="167.7" stroke="#333" stroke-width="1.0" />
<text transform="translate(248.9,279.8) scale(1,1.07)" font-size="10" text-anchor="middle" font-weight="normal" font-style="normal" fill="#000" >40</text>
<line x1="255.45" y1="267.5" x2="255.45" y2="265.4" stroke="#333" stroke-width="1.0" />
<line x1="255.45" y1="163.3" x2="255.45" y2="165.4" stroke="#333" stroke-width="1.0" />
<line x1="262" y1="267.5" x2="262" y2="265.4" stroke="#333" stroke-width="1.0" />
<line x1="262" y1="163.3" x2="262" y2="165.4" stroke="#333" stroke-width="1.0" />
<line x1="268.55" y1="267.5" x2="268.55" y2="265.4" stroke="#333" stroke-width="1.0" />
<line x1="268.55" y1="163.3" x2="268.55" y2="165.4" stroke="#333" stroke-width="1.0" />
<line x1="275.1" y1="267.5" x2="275.1" y2="263.1" stroke="#333" stroke-width="1.0" />
<line x1="275.1" y1="163.3" x2="275.1" y2="167.7" stroke="#333" stroke-width="1.0" />
<text transform="translate(275.1,279.8) scale(1,1.07)" font-size="10" text-anchor="middle" font-weight="normal" font-style="normal" fill="#000" >60</text>
<line x1="281.65" y1="267.5" x2="281.65" y2="265.4" stroke="#333" stroke-width="1.0" />
<line x1="281.65" y1="163.3" x2="281.65" y2="165.4" stroke="#333" stroke-width="1.0" />
<line x1="288.2" y1="267.5" x2="288.2" y2="265.4" stroke="#333" stroke-width="1.0" />
<line x1="288.2" y1="163.3" x2="288.2" y2="165.4" stroke="#333" stroke-width="1.0" />
<line x1="294.75" y1="267.5" x2="294.75" y2="265.4" stroke="#333" stroke-width="1.0" />
<line x1="294.75" y1="163.3" x2="294.75" y2="165.4" stroke="#333" stroke-width="1.0" />
<line x1="301.3" y1="267.5" x2="301.3" y2="263.1" stroke="#333" stroke-width="1.0" />
<line x1="301.3" y1="163.3" x2="301.3" y2="167.7" stroke="#333" stroke-width="1.0" />
<text transform="translate(301.3,279.8) scale(1,1.07)" font-size="10" text-anchor="middle" font-weight="normal" font-style="normal" fill="#000" >80</text>
<line x1="307.85" y1="267.5" x2="307.85" y2="265.4" stroke="#333" stroke-width="1.0" />
<line x1="307.85" y1="163.3" x2="307.85" y2="165.4" stroke="#333" stroke-width="1.0" />
<line x1="314.4" y1="267.5" x2="314.4" y2="265.4" stroke="#333" stroke-width="1.0" />
<line x1="314.4" y1="163.3" x2="314.4" y2="165.4" stroke="#333" stroke-width="1.0" />
<line x1="320.95" y1="267.5" x2="320.95" y2="265.4" stroke="#333" stroke-width="1.0" />
<line x1="320.95" y1="163.3" x2="320.95" y2="165.4" stroke="#333" stroke-width="1.0" />
<line x1="327.5" y1="267.5" x2="327.5" y2="263.1" stroke="#333" stroke-width="1.0" />
<line x1="327.5" y1="163.3" x2="327.5" y2="167.7" stroke="#333" stroke-width="1.0" />
<text transform="translate(327.5,279.8) scale(1,1.07)" font-size="10" text-anchor="middle" font-weight="normal" font-style="normal" fill="#000" >100</text>
<line x1="196.5" y1="267.5" x2="200.9" y2="267.5" stroke="#333" stroke-width="1.0" />
<line x1="327.5" y1="267.5" x2="323.1" y2="267.5" stroke="#333" stroke-width="1.0" />
<text transform="translate(193.9,271.3) scale(1,1.07)" font-size="10" text-anchor="end" font-weight="normal" font-style="normal" fill="#000" >0</text>
<line x1="196.5" y1="261.71" x2="198.6" y2="261.71" stroke="#333" stroke-width="1.0" />
<line x1="327.5" y1="261.71" x2="325.4" y2="261.71" stroke="#333" stroke-width="1.0" />
<line x1="196.5" y1="255.92" x2="198.6" y2="255.92" stroke="#333" stroke-width="1.0" />
<line x1="327.5" y1="255.92" x2="325.4" y2="255.92" stroke="#333" stroke-width="1.0" />
<line x1="196.5" y1="250.13" x2="198.6" y2="250.13" stroke="#333" stroke-width="1.0" />
<line x1="327.5" y1="250.13" x2="325.4" y2="250.13" stroke="#333" stroke-width="1.0" />
<line x1="196.5" y1="244.34" x2="198.6" y2="244.34" stroke="#333" stroke-width="1.0" />
<line x1="327.5" y1="244.34" x2="325.4" y2="244.34" stroke="#333" stroke-width="1.0" />
<line x1="196.5" y1="238.56" x2="200.9" y2="238.56" stroke="#333" stroke-width="1.0" />
<line x1="327.5" y1="238.56" x2="323.1" y2="238.56" stroke="#333" stroke-width="1.0" />
<text transform="translate(193.9,242.35) scale(1,1.07)" font-size="10" text-anchor="end" font-weight="normal" font-style="normal" fill="#000" >0.5</text>
<line x1="196.5" y1="232.77" x2="198.6" y2="232.77" stroke="#333" stroke-width="1.0" />
<line x1="327.5" y1="232.77" x2="325.4" y2="232.77" stroke="#333" stroke-width="1.0" />
<line x1="196.5" y1="226.98" x2="198.6" y2="226.98" stroke="#333" stroke-width="1.0" />
<line x1="327.5" y1="226.98" x2="325.4" y2="226.98" stroke="#333" stroke-width="1.0" />
<line x1="196.5" y1="221.19" x2="198.6" y2="221.19" stroke="#333" stroke-width="1.0" />
<line x1="327.5" y1="221.19" x2="325.4" y2="221.19" stroke="#333" stroke-width="1.0" />
<line x1="196.5" y1="215.4" x2="198.6" y2="215.4" stroke="#333" stroke-width="1.0" />
<line x1="327.5" y1="215.4" x2="325.4" y2="215.4" stroke="#333" stroke-width="1.0" />
<line x1="196.5" y1="209.61" x2="200.9" y2="209.61" stroke="#333" stroke-width="1.0" />
<line x1="327.5" y1="209.61" x2="323.1" y2="209.61" stroke="#333" stroke-width="1.0" />
<text transform="translate(193.9,213.41) scale(1,1.07)" font-size="10" text-anchor="end" font-weight="normal" font-style="normal" fill="#000" >1.0</text>
<line x1="196.5" y1="203.82" x2="198.6" y2="203.82" stroke="#333" stroke-width="1.0" />
<line x1="327.5" y1="203.82" x2="325.4" y2="203.82" stroke="#333" stroke-width="1.0" />
<line x1="196.5" y1="198.03" x2="198.6" y2="198.03" stroke="#333" stroke-width="1.0" />
<line x1="327.5" y1="198.03" x2="325.4" y2="198.03" stroke="#333" stroke-width="1.0" />
<line x1="196.5" y1="192.24" x2="198.6" y2="192.24" stroke="#333" stroke-width="1.0" />
<line x1="327.5" y1="192.24" x2="325.4" y2="192.24" stroke="#333" stroke-width="1.0" />
<line x1="196.5" y1="186.46" x2="198.6" y2="186.46" stroke="#333" stroke-width="1.0" />
<line x1="327.5" y1="186.46" x2="325.4" y2="186.46" stroke="#333" stroke-width="1.0" />
<line x1="196.5" y1="180.67" x2="200.9" y2="180.67" stroke="#333" stroke-width="1.0" />
<line x1="327.5" y1="180.67" x2="323.1" y2="180.67" stroke="#333" stroke-width="1.0" />
<text transform="translate(193.9,184.47) scale(1,1.07)" font-size="10" text-anchor="end" font-weight="normal" font-style="normal" fill="#000" >1.5</text>
<line x1="196.5" y1="174.88" x2="198.6" y2="174.88" stroke="#333" stroke-width="1.0" />
<line x1="327.5" y1="174.88" x2="325.4" y2="174.88" stroke="#333" stroke-width="1.0" />
<line x1="196.5" y1="169.09" x2="198.6" y2="169.09" stroke="#333" stroke-width="1.0" />
<line x1="327.5" y1="169.09" x2="325.4" y2="169.09" stroke="#333" stroke-width="1.0" />
<line x1="196.5" y1="163.3" x2="198.6" y2="163.3" stroke="#333" stroke-width="1.0" />
<line x1="327.5" y1="163.3" x2="325.4" y2="163.3" stroke="#333" stroke-width="1.0" />
<text x="207.9" y="182.3" font-size="12" text-anchor="start" font-weight="bold" font-style="normal" fill="#000" >f</text>
<text x="262" y="292.8" font-size="11" text-anchor="middle" font-weight="normal" font-style="normal" fill="#000" ><tspan font-style="italic">T</tspan> (K)</text>
<rect x="358.5" y="163.3" width="131.3" height="104.2" fill="none" stroke="#333" stroke-width="1.0"/>
<line x1="358.5" y1="267.5" x2="358.5" y2="263.1" stroke="#333" stroke-width="1.0" />
<line x1="358.5" y1="163.3" x2="358.5" y2="167.7" stroke="#333" stroke-width="1.0" />
<text transform="translate(358.5,279.8) scale(1,1.07)" font-size="10" text-anchor="middle" font-weight="normal" font-style="normal" fill="#000" >0</text>
<line x1="365.06" y1="267.5" x2="365.06" y2="265.4" stroke="#333" stroke-width="1.0" />
<line x1="365.06" y1="163.3" x2="365.06" y2="165.4" stroke="#333" stroke-width="1.0" />
<line x1="371.63" y1="267.5" x2="371.63" y2="265.4" stroke="#333" stroke-width="1.0" />
<line x1="371.63" y1="163.3" x2="371.63" y2="165.4" stroke="#333" stroke-width="1.0" />
<line x1="378.19" y1="267.5" x2="378.19" y2="265.4" stroke="#333" stroke-width="1.0" />
<line x1="378.19" y1="163.3" x2="378.19" y2="165.4" stroke="#333" stroke-width="1.0" />
<line x1="384.76" y1="267.5" x2="384.76" y2="263.1" stroke="#333" stroke-width="1.0" />
<line x1="384.76" y1="163.3" x2="384.76" y2="167.7" stroke="#333" stroke-width="1.0" />
<text transform="translate(384.76,279.8) scale(1,1.07)" font-size="10" text-anchor="middle" font-weight="normal" font-style="normal" fill="#000" >20</text>
<line x1="391.32" y1="267.5" x2="391.32" y2="265.4" stroke="#333" stroke-width="1.0" />
<line x1="391.32" y1="163.3" x2="391.32" y2="165.4" stroke="#333" stroke-width="1.0" />
<line x1="397.89" y1="267.5" x2="397.89" y2="265.4" stroke="#333" stroke-width="1.0" />
<line x1="397.89" y1="163.3" x2="397.89" y2="165.4" stroke="#333" stroke-width="1.0" />
<line x1="404.45" y1="267.5" x2="404.45" y2="265.4" stroke="#333" stroke-width="1.0" />
<line x1="404.45" y1="163.3" x2="404.45" y2="165.4" stroke="#333" stroke-width="1.0" />
<line x1="411.02" y1="267.5" x2="411.02" y2="263.1" stroke="#333" stroke-width="1.0" />
<line x1="411.02" y1="163.3" x2="411.02" y2="167.7" stroke="#333" stroke-width="1.0" />
<text transform="translate(411.02,279.8) scale(1,1.07)" font-size="10" text-anchor="middle" font-weight="normal" font-style="normal" fill="#000" >40</text>
<line x1="417.59" y1="267.5" x2="417.59" y2="265.4" stroke="#333" stroke-width="1.0" />
<line x1="417.59" y1="163.3" x2="417.59" y2="165.4" stroke="#333" stroke-width="1.0" />
<line x1="424.15" y1="267.5" x2="424.15" y2="265.4" stroke="#333" stroke-width="1.0" />
<line x1="424.15" y1="163.3" x2="424.15" y2="165.4" stroke="#333" stroke-width="1.0" />
<line x1="430.72" y1="267.5" x2="430.72" y2="265.4" stroke="#333" stroke-width="1.0" />
<line x1="430.72" y1="163.3" x2="430.72" y2="165.4" stroke="#333" stroke-width="1.0" />
<line x1="437.28" y1="267.5" x2="437.28" y2="263.1" stroke="#333" stroke-width="1.0" />
<line x1="437.28" y1="163.3" x2="437.28" y2="167.7" stroke="#333" stroke-width="1.0" />
<text transform="translate(437.28,279.8) scale(1,1.07)" font-size="10" text-anchor="middle" font-weight="normal" font-style="normal" fill="#000" >60</text>
<line x1="443.85" y1="267.5" x2="443.85" y2="265.4" stroke="#333" stroke-width="1.0" />
<line x1="443.85" y1="163.3" x2="443.85" y2="165.4" stroke="#333" stroke-width="1.0" />
<line x1="450.41" y1="267.5" x2="450.41" y2="265.4" stroke="#333" stroke-width="1.0" />
<line x1="450.41" y1="163.3" x2="450.41" y2="165.4" stroke="#333" stroke-width="1.0" />
<line x1="456.98" y1="267.5" x2="456.98" y2="265.4" stroke="#333" stroke-width="1.0" />
<line x1="456.98" y1="163.3" x2="456.98" y2="165.4" stroke="#333" stroke-width="1.0" />
<line x1="463.54" y1="267.5" x2="463.54" y2="263.1" stroke="#333" stroke-width="1.0" />
<line x1="463.54" y1="163.3" x2="463.54" y2="167.7" stroke="#333" stroke-width="1.0" />
<text transform="translate(463.54,279.8) scale(1,1.07)" font-size="10" text-anchor="middle" font-weight="normal" font-style="normal" fill="#000" >80</text>
<line x1="470.11" y1="267.5" x2="470.11" y2="265.4" stroke="#333" stroke-width="1.0" />
<line x1="470.11" y1="163.3" x2="470.11" y2="165.4" stroke="#333" stroke-width="1.0" />
<line x1="476.67" y1="267.5" x2="476.67" y2="265.4" stroke="#333" stroke-width="1.0" />
<line x1="476.67" y1="163.3" x2="476.67" y2="165.4" stroke="#333" stroke-width="1.0" />
<line x1="483.24" y1="267.5" x2="483.24" y2="265.4" stroke="#333" stroke-width="1.0" />
<line x1="483.24" y1="163.3" x2="483.24" y2="165.4" stroke="#333" stroke-width="1.0" />
<line x1="489.8" y1="267.5" x2="489.8" y2="263.1" stroke="#333" stroke-width="1.0" />
<line x1="489.8" y1="163.3" x2="489.8" y2="167.7" stroke="#333" stroke-width="1.0" />
<text transform="translate(489.8,279.8) scale(1,1.07)" font-size="10" text-anchor="middle" font-weight="normal" font-style="normal" fill="#000" >100</text>
<line x1="358.5" y1="267.5" x2="362.9" y2="267.5" stroke="#333" stroke-width="1.0" />
<line x1="489.8" y1="267.5" x2="485.4" y2="267.5" stroke="#333" stroke-width="1.0" />
<text transform="translate(355.9,271.3) scale(1,1.07)" font-size="10" text-anchor="end" font-weight="normal" font-style="normal" fill="#000" >0</text>
<line x1="358.5" y1="262.51" x2="360.6" y2="262.51" stroke="#333" stroke-width="1.0" />
<line x1="489.8" y1="262.51" x2="487.7" y2="262.51" stroke="#333" stroke-width="1.0" />
<line x1="358.5" y1="257.53" x2="360.6" y2="257.53" stroke="#333" stroke-width="1.0" />
<line x1="489.8" y1="257.53" x2="487.7" y2="257.53" stroke="#333" stroke-width="1.0" />
<line x1="358.5" y1="252.54" x2="360.6" y2="252.54" stroke="#333" stroke-width="1.0" />
<line x1="489.8" y1="252.54" x2="487.7" y2="252.54" stroke="#333" stroke-width="1.0" />
<line x1="358.5" y1="247.56" x2="360.6" y2="247.56" stroke="#333" stroke-width="1.0" />
<line x1="489.8" y1="247.56" x2="487.7" y2="247.56" stroke="#333" stroke-width="1.0" />
<line x1="358.5" y1="242.57" x2="362.9" y2="242.57" stroke="#333" stroke-width="1.0" />
<line x1="489.8" y1="242.57" x2="485.4" y2="242.57" stroke="#333" stroke-width="1.0" />
<text transform="translate(355.9,246.37) scale(1,1.07)" font-size="10" text-anchor="end" font-weight="normal" font-style="normal" fill="#000" >0.5</text>
<line x1="358.5" y1="237.59" x2="360.6" y2="237.59" stroke="#333" stroke-width="1.0" />
<line x1="489.8" y1="237.59" x2="487.7" y2="237.59" stroke="#333" stroke-width="1.0" />
<line x1="358.5" y1="232.6" x2="360.6" y2="232.6" stroke="#333" stroke-width="1.0" />
<line x1="489.8" y1="232.6" x2="487.7" y2="232.6" stroke="#333" stroke-width="1.0" />
<line x1="358.5" y1="227.61" x2="360.6" y2="227.61" stroke="#333" stroke-width="1.0" />
<line x1="489.8" y1="227.61" x2="487.7" y2="227.61" stroke="#333" stroke-width="1.0" />
<line x1="358.5" y1="222.63" x2="360.6" y2="222.63" stroke="#333" stroke-width="1.0" />
<line x1="489.8" y1="222.63" x2="487.7" y2="222.63" stroke="#333" stroke-width="1.0" />
<line x1="358.5" y1="217.64" x2="362.9" y2="217.64" stroke="#333" stroke-width="1.0" />
<line x1="489.8" y1="217.64" x2="485.4" y2="217.64" stroke="#333" stroke-width="1.0" />
<text transform="translate(355.9,221.44) scale(1,1.07)" font-size="10" text-anchor="end" font-weight="normal" font-style="normal" fill="#000" >1.0</text>
<line x1="358.5" y1="212.66" x2="360.6" y2="212.66" stroke="#333" stroke-width="1.0" />
<line x1="489.8" y1="212.66" x2="487.7" y2="212.66" stroke="#333" stroke-width="1.0" />
<line x1="358.5" y1="207.67" x2="360.6" y2="207.67" stroke="#333" stroke-width="1.0" />
<line x1="489.8" y1="207.67" x2="487.7" y2="207.67" stroke="#333" stroke-width="1.0" />
<line x1="358.5" y1="202.69" x2="360.6" y2="202.69" stroke="#333" stroke-width="1.0" />
<line x1="489.8" y1="202.69" x2="487.7" y2="202.69" stroke="#333" stroke-width="1.0" />
<line x1="358.5" y1="197.7" x2="360.6" y2="197.7" stroke="#333" stroke-width="1.0" />
<line x1="489.8" y1="197.7" x2="487.7" y2="197.7" stroke="#333" stroke-width="1.0" />
<line x1="358.5" y1="192.72" x2="362.9" y2="192.72" stroke="#333" stroke-width="1.0" />
<line x1="489.8" y1="192.72" x2="485.4" y2="192.72" stroke="#333" stroke-width="1.0" />
<text transform="translate(355.9,196.51) scale(1,1.07)" font-size="10" text-anchor="end" font-weight="normal" font-style="normal" fill="#000" >1.5</text>
<line x1="358.5" y1="187.73" x2="360.6" y2="187.73" stroke="#333" stroke-width="1.0" />
<line x1="489.8" y1="187.73" x2="487.7" y2="187.73" stroke="#333" stroke-width="1.0" />
<line x1="358.5" y1="182.74" x2="360.6" y2="182.74" stroke="#333" stroke-width="1.0" />
<line x1="489.8" y1="182.74" x2="487.7" y2="182.74" stroke="#333" stroke-width="1.0" />
<line x1="358.5" y1="177.76" x2="360.6" y2="177.76" stroke="#333" stroke-width="1.0" />
<line x1="489.8" y1="177.76" x2="487.7" y2="177.76" stroke="#333" stroke-width="1.0" />
<line x1="358.5" y1="172.77" x2="360.6" y2="172.77" stroke="#333" stroke-width="1.0" />
<line x1="489.8" y1="172.77" x2="487.7" y2="172.77" stroke="#333" stroke-width="1.0" />
<line x1="358.5" y1="167.79" x2="362.9" y2="167.79" stroke="#333" stroke-width="1.0" />
<line x1="489.8" y1="167.79" x2="485.4" y2="167.79" stroke="#333" stroke-width="1.0" />
<text transform="translate(355.9,171.59) scale(1,1.07)" font-size="10" text-anchor="end" font-weight="normal" font-style="normal" fill="#000" >2.0</text>
<text x="369.9" y="182.3" font-size="12" text-anchor="start" font-weight="bold" font-style="normal" fill="#000" >g</text>
<text x="424.15" y="292.8" font-size="11" text-anchor="middle" font-weight="normal" font-style="normal" fill="#000" ><tspan font-style="italic">T</tspan> (K)</text>
<rect x="521" y="163.3" width="131.1" height="104.2" fill="none" stroke="#333" stroke-width="1.0"/>
<line x1="521" y1="267.5" x2="521" y2="263.1" stroke="#333" stroke-width="1.0" />
<line x1="521" y1="163.3" x2="521" y2="167.7" stroke="#333" stroke-width="1.0" />
<text transform="translate(521,279.8) scale(1,1.07)" font-size="10" text-anchor="middle" font-weight="normal" font-style="normal" fill="#000" >0</text>
<line x1="527.55" y1="267.5" x2="527.55" y2="265.4" stroke="#333" stroke-width="1.0" />
<line x1="527.55" y1="163.3" x2="527.55" y2="165.4" stroke="#333" stroke-width="1.0" />
<line x1="534.11" y1="267.5" x2="534.11" y2="265.4" stroke="#333" stroke-width="1.0" />
<line x1="534.11" y1="163.3" x2="534.11" y2="165.4" stroke="#333" stroke-width="1.0" />
<line x1="540.66" y1="267.5" x2="540.66" y2="265.4" stroke="#333" stroke-width="1.0" />
<line x1="540.66" y1="163.3" x2="540.66" y2="165.4" stroke="#333" stroke-width="1.0" />
<line x1="547.22" y1="267.5" x2="547.22" y2="263.1" stroke="#333" stroke-width="1.0" />
<line x1="547.22" y1="163.3" x2="547.22" y2="167.7" stroke="#333" stroke-width="1.0" />
<text transform="translate(547.22,279.8) scale(1,1.07)" font-size="10" text-anchor="middle" font-weight="normal" font-style="normal" fill="#000" >20</text>
<line x1="553.77" y1="267.5" x2="553.77" y2="265.4" stroke="#333" stroke-width="1.0" />
<line x1="553.77" y1="163.3" x2="553.77" y2="165.4" stroke="#333" stroke-width="1.0" />
<line x1="560.33" y1="267.5" x2="560.33" y2="265.4" stroke="#333" stroke-width="1.0" />
<line x1="560.33" y1="163.3" x2="560.33" y2="165.4" stroke="#333" stroke-width="1.0" />
<line x1="566.88" y1="267.5" x2="566.88" y2="265.4" stroke="#333" stroke-width="1.0" />
<line x1="566.88" y1="163.3" x2="566.88" y2="165.4" stroke="#333" stroke-width="1.0" />
<line x1="573.44" y1="267.5" x2="573.44" y2="263.1" stroke="#333" stroke-width="1.0" />
<line x1="573.44" y1="163.3" x2="573.44" y2="167.7" stroke="#333" stroke-width="1.0" />
<text transform="translate(573.44,279.8) scale(1,1.07)" font-size="10" text-anchor="middle" font-weight="normal" font-style="normal" fill="#000" >40</text>
<line x1="580" y1="267.5" x2="580" y2="265.4" stroke="#333" stroke-width="1.0" />
<line x1="580" y1="163.3" x2="580" y2="165.4" stroke="#333" stroke-width="1.0" />
<line x1="586.55" y1="267.5" x2="586.55" y2="265.4" stroke="#333" stroke-width="1.0" />
<line x1="586.55" y1="163.3" x2="586.55" y2="165.4" stroke="#333" stroke-width="1.0" />
<line x1="593.11" y1="267.5" x2="593.11" y2="265.4" stroke="#333" stroke-width="1.0" />
<line x1="593.11" y1="163.3" x2="593.11" y2="165.4" stroke="#333" stroke-width="1.0" />
<line x1="599.66" y1="267.5" x2="599.66" y2="263.1" stroke="#333" stroke-width="1.0" />
<line x1="599.66" y1="163.3" x2="599.66" y2="167.7" stroke="#333" stroke-width="1.0" />
<text transform="translate(599.66,279.8) scale(1,1.07)" font-size="10" text-anchor="middle" font-weight="normal" font-style="normal" fill="#000" >60</text>
<line x1="606.22" y1="267.5" x2="606.22" y2="265.4" stroke="#333" stroke-width="1.0" />
<line x1="606.22" y1="163.3" x2="606.22" y2="165.4" stroke="#333" stroke-width="1.0" />
<line x1="612.77" y1="267.5" x2="612.77" y2="265.4" stroke="#333" stroke-width="1.0" />
<line x1="612.77" y1="163.3" x2="612.77" y2="165.4" stroke="#333" stroke-width="1.0" />
<line x1="619.33" y1="267.5" x2="619.33" y2="265.4" stroke="#333" stroke-width="1.0" />
<line x1="619.33" y1="163.3" x2="619.33" y2="165.4" stroke="#333" stroke-width="1.0" />
<line x1="625.88" y1="267.5" x2="625.88" y2="263.1" stroke="#333" stroke-width="1.0" />
<line x1="625.88" y1="163.3" x2="625.88" y2="167.7" stroke="#333" stroke-width="1.0" />
<text transform="translate(625.88,279.8) scale(1,1.07)" font-size="10" text-anchor="middle" font-weight="normal" font-style="normal" fill="#000" >80</text>
<line x1="632.44" y1="267.5" x2="632.44" y2="265.4" stroke="#333" stroke-width="1.0" />
<line x1="632.44" y1="163.3" x2="632.44" y2="165.4" stroke="#333" stroke-width="1.0" />
<line x1="638.99" y1="267.5" x2="638.99" y2="265.4" stroke="#333" stroke-width="1.0" />
<line x1="638.99" y1="163.3" x2="638.99" y2="165.4" stroke="#333" stroke-width="1.0" />
<line x1="645.55" y1="267.5" x2="645.55" y2="265.4" stroke="#333" stroke-width="1.0" />
<line x1="645.55" y1="163.3" x2="645.55" y2="165.4" stroke="#333" stroke-width="1.0" />
<line x1="652.1" y1="267.5" x2="652.1" y2="263.1" stroke="#333" stroke-width="1.0" />
<line x1="652.1" y1="163.3" x2="652.1" y2="167.7" stroke="#333" stroke-width="1.0" />
<text transform="translate(652.1,279.8) scale(1,1.07)" font-size="10" text-anchor="middle" font-weight="normal" font-style="normal" fill="#000" >100</text>
<line x1="521" y1="267.5" x2="525.4" y2="267.5" stroke="#333" stroke-width="1.0" />
<line x1="652.1" y1="267.5" x2="647.7" y2="267.5" stroke="#333" stroke-width="1.0" />
<text transform="translate(518.4,271.3) scale(1,1.07)" font-size="10" text-anchor="end" font-weight="normal" font-style="normal" fill="#000" >0</text>
<line x1="521" y1="262.51" x2="523.1" y2="262.51" stroke="#333" stroke-width="1.0" />
<line x1="652.1" y1="262.51" x2="650" y2="262.51" stroke="#333" stroke-width="1.0" />
<line x1="521" y1="257.53" x2="523.1" y2="257.53" stroke="#333" stroke-width="1.0" />
<line x1="652.1" y1="257.53" x2="650" y2="257.53" stroke="#333" stroke-width="1.0" />
<line x1="521" y1="252.54" x2="523.1" y2="252.54" stroke="#333" stroke-width="1.0" />
<line x1="652.1" y1="252.54" x2="650" y2="252.54" stroke="#333" stroke-width="1.0" />
<line x1="521" y1="247.56" x2="523.1" y2="247.56" stroke="#333" stroke-width="1.0" />
<line x1="652.1" y1="247.56" x2="650" y2="247.56" stroke="#333" stroke-width="1.0" />
<line x1="521" y1="242.57" x2="525.4" y2="242.57" stroke="#333" stroke-width="1.0" />
<line x1="652.1" y1="242.57" x2="647.7" y2="242.57" stroke="#333" stroke-width="1.0" />
<text transform="translate(518.4,246.37) scale(1,1.07)" font-size="10" text-anchor="end" font-weight="normal" font-style="normal" fill="#000" >0.5</text>
<line x1="521" y1="237.59" x2="523.1" y2="237.59" stroke="#333" stroke-width="1.0" />
<line x1="652.1" y1="237.59" x2="650" y2="237.59" stroke="#333" stroke-width="1.0" />
<line x1="521" y1="232.6" x2="523.1" y2="232.6" stroke="#333" stroke-width="1.0" />
<line x1="652.1" y1="232.6" x2="650" y2="232.6" stroke="#333" stroke-width="1.0" />
<line x1="521" y1="227.61" x2="523.1" y2="227.61" stroke="#333" stroke-width="1.0" />
<line x1="652.1" y1="227.61" x2="650" y2="227.61" stroke="#333" stroke-width="1.0" />
<line x1="521" y1="222.63" x2="523.1" y2="222.63" stroke="#333" stroke-width="1.0" />
<line x1="652.1" y1="222.63" x2="650" y2="222.63" stroke="#333" stroke-width="1.0" />
<line x1="521" y1="217.64" x2="525.4" y2="217.64" stroke="#333" stroke-width="1.0" />
<line x1="652.1" y1="217.64" x2="647.7" y2="217.64" stroke="#333" stroke-width="1.0" />
<text transform="translate(518.4,221.44) scale(1,1.07)" font-size="10" text-anchor="end" font-weight="normal" font-style="normal" fill="#000" >1.0</text>
<line x1="521" y1="212.66" x2="523.1" y2="212.66" stroke="#333" stroke-width="1.0" />
<line x1="652.1" y1="212.66" x2="650" y2="212.66" stroke="#333" stroke-width="1.0" />
<line x1="521" y1="207.67" x2="523.1" y2="207.67" stroke="#333" stroke-width="1.0" />
<line x1="652.1" y1="207.67" x2="650" y2="207.67" stroke="#333" stroke-width="1.0" />
<line x1="521" y1="202.69" x2="523.1" y2="202.69" stroke="#333" stroke-width="1.0" />
<line x1="652.1" y1="202.69" x2="650" y2="202.69" stroke="#333" stroke-width="1.0" />
<line x1="521" y1="197.7" x2="523.1" y2="197.7" stroke="#333" stroke-width="1.0" />
<line x1="652.1" y1="197.7" x2="650" y2="197.7" stroke="#333" stroke-width="1.0" />
<line x1="521" y1="192.72" x2="525.4" y2="192.72" stroke="#333" stroke-width="1.0" />
<line x1="652.1" y1="192.72" x2="647.7" y2="192.72" stroke="#333" stroke-width="1.0" />
<text transform="translate(518.4,196.51) scale(1,1.07)" font-size="10" text-anchor="end" font-weight="normal" font-style="normal" fill="#000" >1.5</text>
<line x1="521" y1="187.73" x2="523.1" y2="187.73" stroke="#333" stroke-width="1.0" />
<line x1="652.1" y1="187.73" x2="650" y2="187.73" stroke="#333" stroke-width="1.0" />
<line x1="521" y1="182.74" x2="523.1" y2="182.74" stroke="#333" stroke-width="1.0" />
<line x1="652.1" y1="182.74" x2="650" y2="182.74" stroke="#333" stroke-width="1.0" />
<line x1="521" y1="177.76" x2="523.1" y2="177.76" stroke="#333" stroke-width="1.0" />
<line x1="652.1" y1="177.76" x2="650" y2="177.76" stroke="#333" stroke-width="1.0" />
<line x1="521" y1="172.77" x2="523.1" y2="172.77" stroke="#333" stroke-width="1.0" />
<line x1="652.1" y1="172.77" x2="650" y2="172.77" stroke="#333" stroke-width="1.0" />
<line x1="521" y1="167.79" x2="525.4" y2="167.79" stroke="#333" stroke-width="1.0" />
<line x1="652.1" y1="167.79" x2="647.7" y2="167.79" stroke="#333" stroke-width="1.0" />
<text transform="translate(518.4,171.59) scale(1,1.07)" font-size="10" text-anchor="end" font-weight="normal" font-style="normal" fill="#000" >2.0</text>
<text x="532.4" y="182.3" font-size="12" text-anchor="start" font-weight="bold" font-style="normal" fill="#000" >h</text>
<text x="586.55" y="292.8" font-size="11" text-anchor="middle" font-weight="normal" font-style="normal" fill="#000" ><tspan font-style="italic">T</tspan> (K)</text>
<text transform="translate(14.3,70.6) rotate(-90)" font-size="11.2" text-anchor="middle"><tspan font-style="italic">M</tspan>/<tspan font-style="italic">H</tspan> (10<tspan font-size="7.4" dy="-8.3">-3</tspan><tspan dy="8.3"> cm</tspan><tspan font-size="7.4" dy="-8.3">3</tspan><tspan dy="8.3"> mol</tspan><tspan font-size="7.4" dy="-8.3">-1</tspan><tspan dy="8.3">)</tspan></text>
<text transform="translate(11.9,215.3) rotate(-90)" font-size="11.2" text-anchor="middle"><tspan font-style="italic">C</tspan>/<tspan font-style="italic">T</tspan> (J K<tspan font-size="7.4" dy="-8.3">-2</tspan><tspan dy="8.3"> mol</tspan><tspan font-size="7.4" dy="-8.3">-1</tspan><tspan dy="8.3">)</tspan></text>
<text transform="translate(672.3,71.5) rotate(90)" font-size="10.75" text-anchor="middle">(<tspan font-style="italic">M</tspan>/<tspan font-style="italic">H</tspan> - <tspan font-style="italic">χ</tspan><tspan font-size="7" dy="2.5">0</tspan><tspan dy="-2.5">)</tspan><tspan font-size="7.4" dy="-8.3">-1</tspan><tspan dy="8.3"> (10</tspan><tspan font-size="7.4" dy="-8.3">2</tspan><tspan dy="8.3"> cm</tspan><tspan font-size="7.4" dy="-8.3">-3</tspan><tspan dy="8.3"> mol)</tspan></text>
<path d="M34.2,103.9 C34.75,104.02 36.37,104.33 37.5,104.6 C38.63,104.87 39.92,105.45 41,105.5 C42.08,105.55 42.83,105.22 44,104.9 C45.17,104.58 46.5,104.25 48,103.6 C49.5,102.95 51.27,101.73 53,101 C54.73,100.27 56.73,99.87 58.4,99.2 C60.07,98.53 61.07,98.07 63,97 C64.93,95.93 53,103.05 70,92.8 C87,82.55 149.17,45.05 165,35.5" fill="none" stroke="#fa8080" stroke-width="5.0" stroke-linecap="round" stroke-linejoin="round" />
<path d="M34.2,87.6 C34.5,87.22 35.37,86.13 36,85.3 C36.63,84.47 37.28,83.27 38,82.6 C38.72,81.93 39.5,81.52 40.3,81.3 C41.1,81.08 42.02,81.13 42.8,81.3 C43.58,81.47 44.22,81.72 45,82.3 C45.78,82.88 46.58,83.82 47.5,84.8 C48.42,85.78 49.42,87.07 50.5,88.2 C51.58,89.33 52.75,90.47 54,91.6 C55.25,92.73 56.35,93.83 58,95 C59.65,96.17 60.72,97.04 63.9,98.6 C67.08,100.17 73.07,102.85 77.1,104.41 C81.13,105.97 84.43,106.87 88.1,107.97 C91.77,109.07 94.28,110.13 99.1,111 C103.92,111.87 110.33,112.47 117,113.2 C123.67,113.93 131.1,114.67 139.1,115.4 C147.1,116.13 160.68,117.23 165,117.6" fill="none" stroke="#cc0000" stroke-width="4.6" stroke-linecap="round" stroke-linejoin="round" />
<line x1="33.7" y1="114.6" x2="165" y2="35.2" stroke="#000" stroke-width="0.8" />
<path d="M197,104.1 C197.5,104.17 199,104.4 200,104.5 C201,104.6 201.97,104.7 203,104.7 C204.03,104.7 205.17,104.68 206.2,104.5 C207.23,104.32 208.07,104.05 209.2,103.6 C210.33,103.15 211.53,102.53 213,101.8 C214.47,101.07 216,100.42 218,99.2 C220,97.98 206.75,106.88 225,94.5 C243.25,82.12 310.42,36.5 327.5,24.9" fill="none" stroke="#48f538" stroke-width="4.0" stroke-linecap="round" stroke-linejoin="round" />
<path d="M197,88.1 C197.38,88.27 198.55,89.15 199.3,89.1 C200.05,89.05 200.63,88.38 201.5,87.8 C202.37,87.22 203.67,85.87 204.5,85.6 C205.33,85.33 205.72,85.68 206.5,86.2 C207.28,86.72 208.12,87.57 209.2,88.7 C210.28,89.83 211.53,91.53 213,93 C214.47,94.47 215.32,95.72 218,97.5 C220.68,99.28 225.42,101.96 229.1,103.66 C232.78,105.36 236.43,106.57 240.1,107.72 C243.77,108.87 247.43,109.78 251.1,110.57 C254.77,111.37 257.28,111.81 262.1,112.5 C266.92,113.19 273.35,114.05 280,114.7 C286.65,115.35 294.1,115.85 302,116.4 C309.9,116.95 323.17,117.73 327.4,118" fill="none" stroke="#00c800" stroke-width="4.1" stroke-linecap="round" stroke-linejoin="round" />
<line x1="196.5" y1="113.6" x2="327.5" y2="25.1" stroke="#000" stroke-width="0.8" />
<path d="M358.8,115.4 C359.33,115.1 360.8,114.35 362,113.6 C363.2,112.85 344.7,126.17 366,110.9 C387.3,95.63 469.17,36.82 489.8,22" fill="none" stroke="#2ae8e8" stroke-width="3.6" stroke-linecap="round" stroke-linejoin="round" />
<path d="M358.9,41 C359.07,40.07 359.55,36.73 359.9,35.4 C360.25,34.07 360.6,33.17 361,33 C361.4,32.83 361.9,33.4 362.3,34.4 C362.7,35.4 363,37.13 363.4,39 C363.8,40.87 364.28,43.42 364.7,45.6 C365.12,47.78 365.23,48.77 365.9,52.1 C366.57,55.43 367.55,61.08 368.7,65.6 C369.85,70.12 371.42,75.55 372.8,79.2 C374.18,82.85 375.52,85.17 377,87.5 C378.48,89.83 380.03,91.42 381.7,93.2 C383.37,94.98 385.45,96.93 387,98.2 C388.55,99.47 389.67,100 391,100.8 C392.33,101.6 393.67,102.28 395,103 C396.33,103.72 397.58,104.45 399,105.1 C400.42,105.75 402,106.37 403.5,106.9 C405,107.43 406.58,107.88 408,108.3 C409.42,108.72 410.67,109.07 412,109.4 C413.33,109.73 414.6,110.02 416,110.3 C417.4,110.58 418.57,110.77 420.4,111.1 C422.23,111.43 424.57,111.8 427,112.3 C429.43,112.8 432,113.58 435,114.1 C438,114.62 441.68,115.02 445,115.4 C448.32,115.78 451.57,116.12 454.9,116.4 C458.23,116.68 461.68,116.9 465,117.1 C468.32,117.3 470.7,117.38 474.8,117.6 C478.9,117.82 487.13,118.27 489.6,118.4" fill="none" stroke="#00cccc" stroke-width="4.6" stroke-linecap="round" stroke-linejoin="round" />
<line x1="358.5" y1="117.2" x2="489.8" y2="22.5" stroke="#000" stroke-width="0.8" />
<path d="M521.8,97.5 C522.08,97.75 522.8,98.58 523.5,99 C524.2,99.42 524.92,99.73 526,100 C527.08,100.27 528.67,100.67 530,100.6 C531.33,100.53 532.67,100.15 534,99.6 C535.33,99.05 536.67,98.13 538,97.3 C539.33,96.47 540.67,95.43 542,94.6 C543.33,93.77 544.67,93.08 546,92.3 C547.33,91.52 548.5,90.77 550,89.9 C551.5,89.03 553.17,88.25 555,87.1 C556.83,85.95 544.82,94.58 561,83 C577.18,71.42 636.92,28.5 652.1,17.6" fill="none" stroke="#ffc040" stroke-width="3.3" stroke-linecap="round" stroke-linejoin="round" />
<path d="M521.5,97.2 C521.92,97.27 523.08,97.83 524,97.6 C524.92,97.37 525.92,96.33 527,95.8 C528.08,95.27 529.33,94.47 530.5,94.4 C531.67,94.33 532.75,94.8 534,95.4 C535.25,96 536.17,97.02 538,98 C539.83,98.98 542.17,100.07 545,101.3 C547.83,102.53 551.67,104.15 555,105.38 C558.33,106.61 561.17,107.62 565,108.68 C568.83,109.74 573.78,110.84 578,111.74 C582.22,112.64 585.72,113.39 590.3,114.1 C594.88,114.81 600.42,115.47 605.5,116 C610.58,116.53 615.7,116.92 620.8,117.3 C625.9,117.68 630.88,118 636.1,118.3 C641.32,118.6 649.43,118.97 652.1,119.1" fill="none" stroke="#d29000" stroke-width="4.5" stroke-linecap="round" stroke-linejoin="round" />
<line x1="521" y1="112.1" x2="652.1" y2="18.2" stroke="#000" stroke-width="0.8" />
<path d="M104.9,65.7 A9.3,9.0 0 1 1 110.27,73.86" fill="none" stroke="#fa8080" stroke-width="1"/>
<line x1="123.5" y1="67.1" x2="146.2" y2="67.1" stroke="#fa8080" stroke-width="1" />
<path d="M148.7,67.1 L144.7,65.4 L144.7,68.8 Z" fill="#fa8080"/>
<path d="M258.2,65.5 A9.3,9.0 0 1 1 263.57,73.66" fill="none" stroke="#48f538" stroke-width="1"/>
<line x1="276.8" y1="66.9" x2="299.2" y2="66.9" stroke="#48f538" stroke-width="1" />
<path d="M301.7,66.9 L297.7,65.2 L297.7,68.6 Z" fill="#48f538"/>
<path d="M421.2,65.5 A9.3,9.0 0 1 1 426.57,73.66" fill="none" stroke="#2ae8e8" stroke-width="1"/>
<line x1="439.8" y1="66.9" x2="462.6" y2="66.9" stroke="#2ae8e8" stroke-width="1" />
<path d="M465.1,66.9 L461.1,65.2 L461.1,68.6 Z" fill="#2ae8e8"/>
<path d="M576.7,65.5 A9.3,9.0 0 1 1 582.07,73.66" fill="none" stroke="#ffc040" stroke-width="1"/>
<line x1="595.3" y1="66.9" x2="617.9" y2="66.9" stroke="#ffc040" stroke-width="1" />
<path d="M620.4,66.9 L616.4,65.2 L616.4,68.6 Z" fill="#ffc040"/>
<text x="40.7" y="50.5" font-size="8.6" font-style="italic">M/H<tspan font-style="normal"> = </tspan>C<tspan font-size="6" dy="1.8">0</tspan><tspan dy="-1.8" font-style="normal">/(</tspan>T<tspan font-style="normal"> - </tspan>θ<tspan font-size="6" dy="1.8">W</tspan><tspan dy="-1.8" font-style="normal">) + </tspan>χ<tspan font-size="6" dy="1.8" font-style="normal">0</tspan></text>
<line x1="86.9" y1="55.1" x2="98.4" y2="75.1" stroke="#000" stroke-width="0.8" />
<path d="M34.6,257 C35,256.93 36.25,256.87 37,256.6 C37.75,256.33 38.25,256.13 39.1,255.4 C39.95,254.67 41.08,253.5 42.1,252.2 C43.12,250.9 44.18,249.38 45.2,247.6 C46.22,245.82 47.18,243.55 48.2,241.5 C49.22,239.45 50.28,237.35 51.3,235.3 C52.32,233.25 53.15,231.35 54.3,229.2 C55.45,227.05 57.08,224.27 58.2,222.4 C59.32,220.53 59.95,219.6 61,218 C62.05,216.4 63.23,214.55 64.5,212.8 C65.77,211.05 67.35,209.17 68.6,207.5 C69.85,205.83 70.77,204.45 72,202.8 C73.23,201.15 74.67,199.03 76,197.6 C77.33,196.17 78.65,195.25 80,194.2 C81.35,193.15 82.77,192.2 84.1,191.3 C85.43,190.4 86.63,189.58 88,188.8 C89.37,188.02 90.97,187.27 92.3,186.6 C93.63,185.93 94.78,185.33 96,184.8 C97.22,184.27 98.52,183.85 99.6,183.4 C100.68,182.95 101.35,182.57 102.5,182.1 C103.65,181.63 105.15,181.03 106.5,180.6 C107.85,180.17 109.18,179.85 110.6,179.5 C112.02,179.15 113.43,178.82 115,178.5 C116.57,178.18 118.03,177.9 120,177.6 C121.97,177.3 124.63,176.95 126.8,176.7 C128.97,176.45 130.68,176.23 133,176.1 C135.32,175.97 138.37,175.9 140.7,175.9 C143.03,175.9 144.88,176.02 147,176.1 C149.12,176.18 151.4,176.3 153.4,176.4 C155.4,176.5 157.13,176.6 159,176.7 C160.87,176.8 163.67,176.95 164.6,177" fill="none" stroke="#cc0000" stroke-width="4.8" stroke-linecap="round" stroke-linejoin="round" />
<path d="M197.7,260.8 C198,260.67 198.93,260.35 199.5,260 C200.07,259.65 200.52,259.17 201.1,258.7 C201.68,258.23 202.43,257.73 203,257.2 C203.57,256.67 204,256.2 204.5,255.5 C205,254.8 205.52,253.98 206,253 C206.48,252.02 207.17,250.17 207.4,249.6" fill="none" stroke="#00c800" stroke-width="5.0" stroke-linecap="round" stroke-linejoin="round" />
<path d="M197.7,260.8 C198,260.67 198.93,260.35 199.5,260 C200.07,259.65 200.52,259.17 201.1,258.7 C201.68,258.23 202.43,257.73 203,257.2 C203.57,256.67 204,256.2 204.5,255.5 C205,254.8 205.52,253.98 206,253 C206.48,252.02 206.77,251.17 207.4,249.6 C208.03,248.03 208.98,245.58 209.8,243.6 C210.62,241.62 211.45,239.72 212.3,237.7 C213.15,235.68 214.02,233.57 214.9,231.5 C215.78,229.43 216.67,227.47 217.6,225.3 C218.53,223.13 219.53,220.68 220.5,218.5 C221.47,216.32 222.4,214.2 223.4,212.2 C224.4,210.2 225.4,208.33 226.5,206.5 C227.6,204.67 228.75,202.98 230,201.2 C231.25,199.42 232.57,197.5 234,195.8 C235.43,194.1 237.65,191.98 238.6,191 C239.55,190.02 238.38,191.02 239.7,189.9 C241.02,188.78 244.72,185.62 246.5,184.3 C248.28,182.98 248.98,182.72 250.4,182 C251.82,181.28 253.4,180.53 255,180 C256.6,179.47 258.03,179.2 260,178.8 C261.97,178.4 264.8,177.85 266.8,177.6 C268.8,177.35 270.47,177.35 272,177.3 C273.53,177.25 274.38,177.27 276,177.3 C277.62,177.33 279.78,177.35 281.7,177.5 C283.62,177.65 285.52,177.92 287.5,178.2 C289.48,178.48 291.6,178.83 293.6,179.2 C295.6,179.57 297.53,179.97 299.5,180.4 C301.47,180.83 303.48,181.37 305.4,181.8 C307.32,182.23 309.02,182.62 311,183 C312.98,183.38 314.67,183.68 317.3,184.1 C319.93,184.52 325.22,185.27 326.8,185.5" fill="none" stroke="#00c800" stroke-width="3.8" stroke-linecap="round" stroke-linejoin="round" />
<path d="M359.6,248.5 C359.75,248.28 360.13,247.82 360.5,247.2 C360.87,246.58 361.37,245.5 361.8,244.8 C362.23,244.1 362.47,243.53 363.1,243 C363.73,242.47 364.7,241.87 365.6,241.6 C366.5,241.33 367.68,241.93 368.5,241.4 C369.32,240.87 369.9,239.5 370.5,238.4 C371.1,237.3 371.45,236.15 372.1,234.8 C372.75,233.45 373.62,231.88 374.4,230.3 C375.18,228.72 375.87,227.32 376.8,225.3 C377.73,223.28 378.85,220.72 380,218.2 C381.15,215.68 382.45,212.77 383.7,210.2 C384.95,207.63 386.17,205.3 387.5,202.8 C388.83,200.3 390.43,197.35 391.7,195.2 C392.97,193.05 393.97,191.42 395.1,189.9 C396.23,188.38 397.23,187.23 398.5,186.1 C399.77,184.97 401.3,183.92 402.7,183.1 C404.1,182.28 405.48,181.72 406.9,181.2 C408.32,180.68 409.78,180.37 411.2,180 C412.62,179.63 413.98,179.28 415.4,179 C416.82,178.72 417.93,178.48 419.7,178.3 C421.47,178.12 423.97,177.82 426,177.9 C428.03,177.98 429.98,178.42 431.9,178.8 C433.82,179.18 435.53,179.73 437.5,180.2 C439.47,180.67 441.7,181.17 443.7,181.6 C445.7,182.03 447.52,182.4 449.5,182.8 C451.48,183.2 453.6,183.48 455.6,184 C457.6,184.52 459.52,185.27 461.5,185.9 C463.48,186.53 465.5,187.22 467.5,187.8 C469.5,188.38 471.53,188.88 473.5,189.4 C475.47,189.92 476.62,190.25 479.3,190.9 C481.98,191.55 487.88,192.9 489.6,193.3" fill="none" stroke="#00c8c8" stroke-width="3.9" stroke-linecap="round" stroke-linejoin="round" />
<path d="M522,265.6 C522.22,264.92 522.8,262.9 523.3,261.5 C523.8,260.1 524.38,258.58 525,257.2 C525.62,255.82 526.28,254.47 527,253.2 C527.72,251.93 528.53,250.67 529.3,249.6 C530.07,248.53 531.22,247.27 531.6,246.8" fill="none" stroke="#d08c08" stroke-width="5.2" stroke-linecap="round" stroke-linejoin="round" />
<path d="M560,177.6 C560.7,177.17 562.78,175.63 564.2,175 C565.62,174.37 567.12,174.07 568.5,173.8 C569.88,173.53 571.1,173.47 572.5,173.4 C573.9,173.33 575.48,173.33 576.9,173.4 C578.32,173.47 579.58,173.6 581,173.8 C582.42,174 583.98,174.32 585.4,174.6 C586.82,174.88 588.08,175.2 589.5,175.5 C590.92,175.8 592.52,176.1 593.9,176.4 C595.28,176.7 596.17,176.95 597.8,177.3 C599.43,177.65 601.73,178.05 603.7,178.5 C605.67,178.95 607.62,179.5 609.6,180 C611.58,180.5 613.62,180.97 615.6,181.5 C617.58,182.03 619.52,182.62 621.5,183.2 C623.48,183.78 626.5,184.7 627.5,185" fill="none" stroke="#d08c08" stroke-width="4.6" stroke-linecap="round" stroke-linejoin="round" />
<circle cx="532.2" cy="240.9" r="1.6" fill="none" stroke="#d08c08" stroke-width="1.15"/>
<circle cx="533.72" cy="236.64" r="1.6" fill="none" stroke="#d08c08" stroke-width="1.15"/>
<circle cx="535.09" cy="232.32" r="1.6" fill="none" stroke="#d08c08" stroke-width="1.15"/>
<circle cx="536.31" cy="227.87" r="1.6" fill="none" stroke="#d08c08" stroke-width="1.15"/>
<circle cx="537.54" cy="223.45" r="1.6" fill="none" stroke="#d08c08" stroke-width="1.15"/>
<circle cx="538.8" cy="219.11" r="1.6" fill="none" stroke="#d08c08" stroke-width="1.15"/>
<circle cx="540.17" cy="214.76" r="1.6" fill="none" stroke="#d08c08" stroke-width="1.15"/>
<circle cx="541.76" cy="210.46" r="1.6" fill="none" stroke="#d08c08" stroke-width="1.15"/>
<circle cx="543.41" cy="206.26" r="1.6" fill="none" stroke="#d08c08" stroke-width="1.15"/>
<circle cx="544.36" cy="203.99" r="1.5" fill="none" stroke="#d08c08" stroke-width="1.15"/>
<circle cx="545.27" cy="201.74" r="1.5" fill="none" stroke="#d08c08" stroke-width="1.15"/>
<circle cx="546.06" cy="199.44" r="1.5" fill="none" stroke="#d08c08" stroke-width="1.15"/>
<circle cx="546.93" cy="197.15" r="1.5" fill="none" stroke="#d08c08" stroke-width="1.15"/>
<circle cx="547.87" cy="194.89" r="1.5" fill="none" stroke="#d08c08" stroke-width="1.15"/>
<circle cx="548.88" cy="192.68" r="1.5" fill="none" stroke="#d08c08" stroke-width="1.15"/>
<circle cx="549.99" cy="190.44" r="1.5" fill="none" stroke="#d08c08" stroke-width="1.15"/>
<circle cx="551.18" cy="188.31" r="1.5" fill="none" stroke="#d08c08" stroke-width="1.15"/>
<circle cx="552.48" cy="186.27" r="1.5" fill="none" stroke="#d08c08" stroke-width="1.15"/>
<circle cx="553.94" cy="184.28" r="1.5" fill="none" stroke="#d08c08" stroke-width="1.15"/>
<circle cx="555.55" cy="182.38" r="1.5" fill="none" stroke="#d08c08" stroke-width="1.15"/>
<circle cx="557.17" cy="180.58" r="1.5" fill="none" stroke="#d08c08" stroke-width="1.15"/>
<circle cx="558.79" cy="178.74" r="1.5" fill="none" stroke="#d08c08" stroke-width="1.15"/>
<circle cx="560.67" cy="177.08" r="1.5" fill="none" stroke="#d08c08" stroke-width="1.15"/>
<circle cx="626" cy="184.54" r="1.5" fill="none" stroke="#d08c08" stroke-width="1.15"/>
<circle cx="628.24" cy="185.23" r="1.5" fill="none" stroke="#d08c08" stroke-width="1.15"/>
<circle cx="630.46" cy="185.94" r="1.5" fill="none" stroke="#d08c08" stroke-width="1.15"/>
<circle cx="632.66" cy="186.66" r="1.5" fill="none" stroke="#d08c08" stroke-width="1.15"/>
<circle cx="634.87" cy="187.39" r="1.5" fill="none" stroke="#d08c08" stroke-width="1.15"/>
<circle cx="637.08" cy="188.15" r="1.5" fill="none" stroke="#d08c08" stroke-width="1.15"/>
<circle cx="639.3" cy="188.9" r="1.5" fill="none" stroke="#d08c08" stroke-width="1.15"/>
<circle cx="641.53" cy="189.65" r="1.5" fill="none" stroke="#d08c08" stroke-width="1.15"/>
<circle cx="643.63" cy="190.35" r="1.5" fill="none" stroke="#d08c08" stroke-width="1.15"/>
<circle cx="645.78" cy="191.06" r="1.5" fill="none" stroke="#d08c08" stroke-width="1.15"/>
<circle cx="647.92" cy="191.74" r="1.5" fill="none" stroke="#d08c08" stroke-width="1.15"/>
<circle cx="650.16" cy="192.45" r="1.5" fill="none" stroke="#d08c08" stroke-width="1.15"/>
<rect x="101.5" y="194.4" width="52.6" height="41.4" fill="none" stroke="#333" stroke-width="0.9"/>
<line x1="101.5" y1="235.8" x2="101.5" y2="232" stroke="#333" stroke-width="0.9" />
<line x1="101.5" y1="194.4" x2="101.5" y2="198.2" stroke="#333" stroke-width="0.9" />
<text transform="translate(101.5,245.7) scale(1,1.07)" font-size="8.7" text-anchor="middle" font-weight="normal" font-style="normal" fill="#000" >0</text>
<line x1="106.76" y1="235.8" x2="106.76" y2="233.8" stroke="#333" stroke-width="0.9" />
<line x1="106.76" y1="194.4" x2="106.76" y2="196.4" stroke="#333" stroke-width="0.9" />
<line x1="112.02" y1="235.8" x2="112.02" y2="233.8" stroke="#333" stroke-width="0.9" />
<line x1="112.02" y1="194.4" x2="112.02" y2="196.4" stroke="#333" stroke-width="0.9" />
<line x1="117.28" y1="235.8" x2="117.28" y2="233.8" stroke="#333" stroke-width="0.9" />
<line x1="117.28" y1="194.4" x2="117.28" y2="196.4" stroke="#333" stroke-width="0.9" />
<line x1="122.54" y1="235.8" x2="122.54" y2="232" stroke="#333" stroke-width="0.9" />
<line x1="122.54" y1="194.4" x2="122.54" y2="198.2" stroke="#333" stroke-width="0.9" />
<text transform="translate(122.54,245.7) scale(1,1.07)" font-size="8.7" text-anchor="middle" font-weight="normal" font-style="normal" fill="#000" >40</text>
<line x1="127.8" y1="235.8" x2="127.8" y2="233.8" stroke="#333" stroke-width="0.9" />
<line x1="127.8" y1="194.4" x2="127.8" y2="196.4" stroke="#333" stroke-width="0.9" />
<line x1="133.06" y1="235.8" x2="133.06" y2="233.8" stroke="#333" stroke-width="0.9" />
<line x1="133.06" y1="194.4" x2="133.06" y2="196.4" stroke="#333" stroke-width="0.9" />
<line x1="138.32" y1="235.8" x2="138.32" y2="233.8" stroke="#333" stroke-width="0.9" />
<line x1="138.32" y1="194.4" x2="138.32" y2="196.4" stroke="#333" stroke-width="0.9" />
<line x1="143.58" y1="235.8" x2="143.58" y2="232" stroke="#333" stroke-width="0.9" />
<line x1="143.58" y1="194.4" x2="143.58" y2="198.2" stroke="#333" stroke-width="0.9" />
<text transform="translate(143.58,245.7) scale(1,1.07)" font-size="8.7" text-anchor="middle" font-weight="normal" font-style="normal" fill="#000" >80</text>
<line x1="148.84" y1="235.8" x2="148.84" y2="233.8" stroke="#333" stroke-width="0.9" />
<line x1="148.84" y1="194.4" x2="148.84" y2="196.4" stroke="#333" stroke-width="0.9" />
<line x1="154.1" y1="235.8" x2="154.1" y2="233.8" stroke="#333" stroke-width="0.9" />
<line x1="154.1" y1="194.4" x2="154.1" y2="196.4" stroke="#333" stroke-width="0.9" />
<line x1="101.5" y1="235.8" x2="105.3" y2="235.8" stroke="#333" stroke-width="0.9" />
<line x1="154.1" y1="235.8" x2="150.3" y2="235.8" stroke="#333" stroke-width="0.9" />
<text transform="translate(99.7,239.1) scale(1,1.07)" font-size="8.7" text-anchor="end" font-weight="normal" font-style="normal" fill="#000" >0</text>
<line x1="101.5" y1="227.52" x2="103.5" y2="227.52" stroke="#333" stroke-width="0.9" />
<line x1="154.1" y1="227.52" x2="152.1" y2="227.52" stroke="#333" stroke-width="0.9" />
<line x1="101.5" y1="219.24" x2="105.3" y2="219.24" stroke="#333" stroke-width="0.9" />
<line x1="154.1" y1="219.24" x2="150.3" y2="219.24" stroke="#333" stroke-width="0.9" />
<text transform="translate(99.7,222.54) scale(1,1.07)" font-size="8.7" text-anchor="end" font-weight="normal" font-style="normal" fill="#000" >0.2</text>
<line x1="101.5" y1="210.96" x2="103.5" y2="210.96" stroke="#333" stroke-width="0.9" />
<line x1="154.1" y1="210.96" x2="152.1" y2="210.96" stroke="#333" stroke-width="0.9" />
<line x1="101.5" y1="202.68" x2="105.3" y2="202.68" stroke="#333" stroke-width="0.9" />
<line x1="154.1" y1="202.68" x2="150.3" y2="202.68" stroke="#333" stroke-width="0.9" />
<text transform="translate(99.7,205.98) scale(1,1.07)" font-size="8.7" text-anchor="end" font-weight="normal" font-style="normal" fill="#000" >0.4</text>
<line x1="101.5" y1="194.4" x2="103.5" y2="194.4" stroke="#333" stroke-width="0.9" />
<line x1="154.1" y1="194.4" x2="152.1" y2="194.4" stroke="#333" stroke-width="0.9" />
<path d="M102.03,224.62 C107.9,222.83 131.39,215.65 137.27,213.86" fill="none" stroke="#f47a7a" stroke-width="3.4" stroke-linecap="round" stroke-linejoin="round" stroke-linecap="butt"/>
<path d="M143.05,212.2 C143.67,212.13 146.12,211.86 146.74,211.79" fill="none" stroke="#f47a7a" stroke-width="3.4" stroke-linecap="round" stroke-linejoin="round" stroke-linecap="butt"/>
<line x1="101.5" y1="225.7" x2="154.1" y2="209.72" stroke="#000" stroke-width="0.8" />
<line x1="119.5" y1="220.1" x2="108.2" y2="247" stroke="#000" stroke-width="0.7" />
<text x="56.7" y="257.6" font-size="8.6" font-style="italic">C/T<tspan font-style="normal"> = </tspan>α<tspan font-style="normal"> + </tspan>βT<tspan font-size="7" dy="-4.6" font-style="normal">2</tspan></text>
<text x="128.3" y="257.8" font-size="9.2" text-anchor="middle"><tspan font-style="italic">T</tspan><tspan font-size="6.8" dy="-4.6">2</tspan><tspan dy="4.6"> (K</tspan><tspan font-size="6.8" dy="-4.6">2</tspan><tspan dy="4.6">)</tspan></text>
<rect x="263.9" y="194.4" width="52.6" height="41.4" fill="none" stroke="#333" stroke-width="0.9"/>
<line x1="263.9" y1="235.8" x2="263.9" y2="232" stroke="#333" stroke-width="0.9" />
<line x1="263.9" y1="194.4" x2="263.9" y2="198.2" stroke="#333" stroke-width="0.9" />
<text transform="translate(263.9,245.7) scale(1,1.07)" font-size="8.7" text-anchor="middle" font-weight="normal" font-style="normal" fill="#000" >0</text>
<line x1="269.16" y1="235.8" x2="269.16" y2="233.8" stroke="#333" stroke-width="0.9" />
<line x1="269.16" y1="194.4" x2="269.16" y2="196.4" stroke="#333" stroke-width="0.9" />
<line x1="274.42" y1="235.8" x2="274.42" y2="233.8" stroke="#333" stroke-width="0.9" />
<line x1="274.42" y1="194.4" x2="274.42" y2="196.4" stroke="#333" stroke-width="0.9" />
<line x1="279.68" y1="235.8" x2="279.68" y2="233.8" stroke="#333" stroke-width="0.9" />
<line x1="279.68" y1="194.4" x2="279.68" y2="196.4" stroke="#333" stroke-width="0.9" />
<line x1="284.94" y1="235.8" x2="284.94" y2="232" stroke="#333" stroke-width="0.9" />
<line x1="284.94" y1="194.4" x2="284.94" y2="198.2" stroke="#333" stroke-width="0.9" />
<text transform="translate(284.94,245.7) scale(1,1.07)" font-size="8.7" text-anchor="middle" font-weight="normal" font-style="normal" fill="#000" >40</text>
<line x1="290.2" y1="235.8" x2="290.2" y2="233.8" stroke="#333" stroke-width="0.9" />
<line x1="290.2" y1="194.4" x2="290.2" y2="196.4" stroke="#333" stroke-width="0.9" />
<line x1="295.46" y1="235.8" x2="295.46" y2="233.8" stroke="#333" stroke-width="0.9" />
<line x1="295.46" y1="194.4" x2="295.46" y2="196.4" stroke="#333" stroke-width="0.9" />
<line x1="300.72" y1="235.8" x2="300.72" y2="233.8" stroke="#333" stroke-width="0.9" />
<line x1="300.72" y1="194.4" x2="300.72" y2="196.4" stroke="#333" stroke-width="0.9" />
<line x1="305.98" y1="235.8" x2="305.98" y2="232" stroke="#333" stroke-width="0.9" />
<line x1="305.98" y1="194.4" x2="305.98" y2="198.2" stroke="#333" stroke-width="0.9" />
<text transform="translate(305.98,245.7) scale(1,1.07)" font-size="8.7" text-anchor="middle" font-weight="normal" font-style="normal" fill="#000" >80</text>
<line x1="311.24" y1="235.8" x2="311.24" y2="233.8" stroke="#333" stroke-width="0.9" />
<line x1="311.24" y1="194.4" x2="311.24" y2="196.4" stroke="#333" stroke-width="0.9" />
<line x1="316.5" y1="235.8" x2="316.5" y2="233.8" stroke="#333" stroke-width="0.9" />
<line x1="316.5" y1="194.4" x2="316.5" y2="196.4" stroke="#333" stroke-width="0.9" />
<line x1="263.9" y1="235.8" x2="267.7" y2="235.8" stroke="#333" stroke-width="0.9" />
<line x1="316.5" y1="235.8" x2="312.7" y2="235.8" stroke="#333" stroke-width="0.9" />
<text transform="translate(262.1,239.1) scale(1,1.07)" font-size="8.7" text-anchor="end" font-weight="normal" font-style="normal" fill="#000" >0</text>
<line x1="263.9" y1="227.52" x2="265.9" y2="227.52" stroke="#333" stroke-width="0.9" />
<line x1="316.5" y1="227.52" x2="314.5" y2="227.52" stroke="#333" stroke-width="0.9" />
<line x1="263.9" y1="219.24" x2="267.7" y2="219.24" stroke="#333" stroke-width="0.9" />
<line x1="316.5" y1="219.24" x2="312.7" y2="219.24" stroke="#333" stroke-width="0.9" />
<text transform="translate(262.1,222.54) scale(1,1.07)" font-size="8.7" text-anchor="end" font-weight="normal" font-style="normal" fill="#000" >0.2</text>
<line x1="263.9" y1="210.96" x2="265.9" y2="210.96" stroke="#333" stroke-width="0.9" />
<line x1="316.5" y1="210.96" x2="314.5" y2="210.96" stroke="#333" stroke-width="0.9" />
<line x1="263.9" y1="202.68" x2="267.7" y2="202.68" stroke="#333" stroke-width="0.9" />
<line x1="316.5" y1="202.68" x2="312.7" y2="202.68" stroke="#333" stroke-width="0.9" />
<text transform="translate(262.1,205.98) scale(1,1.07)" font-size="8.7" text-anchor="end" font-weight="normal" font-style="normal" fill="#000" >0.4</text>
<line x1="263.9" y1="194.4" x2="265.9" y2="194.4" stroke="#333" stroke-width="0.9" />
<line x1="316.5" y1="194.4" x2="314.5" y2="194.4" stroke="#333" stroke-width="0.9" />
<path d="M264.43,227.52 C270.3,224.9 293.79,214.41 299.67,211.79" fill="none" stroke="#4ce62c" stroke-width="3.2" stroke-linecap="round" stroke-linejoin="round" stroke-linecap="butt"/>
<path d="M305.98,207.23 C306.51,207.17 308.61,206.89 309.14,206.82" fill="none" stroke="#4ce62c" stroke-width="3.2" stroke-linecap="round" stroke-linejoin="round" stroke-linecap="butt"/>
<line x1="263.9" y1="227.93" x2="316.5" y2="202.68" stroke="#000" stroke-width="0.8" />
<text x="291" y="258.2" font-size="9.2" text-anchor="middle"><tspan font-style="italic">T</tspan><tspan font-size="6.8" dy="-4.6">2</tspan><tspan dy="4.6"> (K</tspan><tspan font-size="6.8" dy="-4.6">2</tspan><tspan dy="4.6">)</tspan></text>
<rect x="414.2" y="194.4" width="52.6" height="41.4" fill="none" stroke="#333" stroke-width="0.9"/>
<line x1="414.2" y1="235.8" x2="414.2" y2="232" stroke="#333" stroke-width="0.9" />
<line x1="414.2" y1="194.4" x2="414.2" y2="198.2" stroke="#333" stroke-width="0.9" />
<text transform="translate(414.2,245.7) scale(1,1.07)" font-size="8.7" text-anchor="middle" font-weight="normal" font-style="normal" fill="#000" >0</text>
<line x1="419.46" y1="235.8" x2="419.46" y2="233.8" stroke="#333" stroke-width="0.9" />
<line x1="419.46" y1="194.4" x2="419.46" y2="196.4" stroke="#333" stroke-width="0.9" />
<line x1="424.72" y1="235.8" x2="424.72" y2="233.8" stroke="#333" stroke-width="0.9" />
<line x1="424.72" y1="194.4" x2="424.72" y2="196.4" stroke="#333" stroke-width="0.9" />
<line x1="429.98" y1="235.8" x2="429.98" y2="233.8" stroke="#333" stroke-width="0.9" />
<line x1="429.98" y1="194.4" x2="429.98" y2="196.4" stroke="#333" stroke-width="0.9" />
<line x1="435.24" y1="235.8" x2="435.24" y2="232" stroke="#333" stroke-width="0.9" />
<line x1="435.24" y1="194.4" x2="435.24" y2="198.2" stroke="#333" stroke-width="0.9" />
<text transform="translate(435.24,245.7) scale(1,1.07)" font-size="8.7" text-anchor="middle" font-weight="normal" font-style="normal" fill="#000" >20</text>
<line x1="440.5" y1="235.8" x2="440.5" y2="233.8" stroke="#333" stroke-width="0.9" />
<line x1="440.5" y1="194.4" x2="440.5" y2="196.4" stroke="#333" stroke-width="0.9" />
<line x1="445.76" y1="235.8" x2="445.76" y2="233.8" stroke="#333" stroke-width="0.9" />
<line x1="445.76" y1="194.4" x2="445.76" y2="196.4" stroke="#333" stroke-width="0.9" />
<line x1="451.02" y1="235.8" x2="451.02" y2="233.8" stroke="#333" stroke-width="0.9" />
<line x1="451.02" y1="194.4" x2="451.02" y2="196.4" stroke="#333" stroke-width="0.9" />
<line x1="456.28" y1="235.8" x2="456.28" y2="232" stroke="#333" stroke-width="0.9" />
<line x1="456.28" y1="194.4" x2="456.28" y2="198.2" stroke="#333" stroke-width="0.9" />
<text transform="translate(456.28,245.7) scale(1,1.07)" font-size="8.7" text-anchor="middle" font-weight="normal" font-style="normal" fill="#000" >40</text>
<line x1="461.54" y1="235.8" x2="461.54" y2="233.8" stroke="#333" stroke-width="0.9" />
<line x1="461.54" y1="194.4" x2="461.54" y2="196.4" stroke="#333" stroke-width="0.9" />
<line x1="466.8" y1="235.8" x2="466.8" y2="233.8" stroke="#333" stroke-width="0.9" />
<line x1="466.8" y1="194.4" x2="466.8" y2="196.4" stroke="#333" stroke-width="0.9" />
<line x1="414.2" y1="235.8" x2="418" y2="235.8" stroke="#333" stroke-width="0.9" />
<line x1="466.8" y1="235.8" x2="463" y2="235.8" stroke="#333" stroke-width="0.9" />
<text transform="translate(412.4,239.1) scale(1,1.07)" font-size="8.7" text-anchor="end" font-weight="normal" font-style="normal" fill="#000" >0</text>
<line x1="414.2" y1="231.66" x2="416.2" y2="231.66" stroke="#333" stroke-width="0.9" />
<line x1="466.8" y1="231.66" x2="464.8" y2="231.66" stroke="#333" stroke-width="0.9" />
<line x1="414.2" y1="227.52" x2="416.2" y2="227.52" stroke="#333" stroke-width="0.9" />
<line x1="466.8" y1="227.52" x2="464.8" y2="227.52" stroke="#333" stroke-width="0.9" />
<line x1="414.2" y1="223.38" x2="416.2" y2="223.38" stroke="#333" stroke-width="0.9" />
<line x1="466.8" y1="223.38" x2="464.8" y2="223.38" stroke="#333" stroke-width="0.9" />
<line x1="414.2" y1="219.24" x2="418" y2="219.24" stroke="#333" stroke-width="0.9" />
<line x1="466.8" y1="219.24" x2="463" y2="219.24" stroke="#333" stroke-width="0.9" />
<text transform="translate(412.4,222.54) scale(1,1.07)" font-size="8.7" text-anchor="end" font-weight="normal" font-style="normal" fill="#000" >0.4</text>
<line x1="414.2" y1="215.1" x2="416.2" y2="215.1" stroke="#333" stroke-width="0.9" />
<line x1="466.8" y1="215.1" x2="464.8" y2="215.1" stroke="#333" stroke-width="0.9" />
<line x1="414.2" y1="210.96" x2="416.2" y2="210.96" stroke="#333" stroke-width="0.9" />
<line x1="466.8" y1="210.96" x2="464.8" y2="210.96" stroke="#333" stroke-width="0.9" />
<line x1="414.2" y1="206.82" x2="416.2" y2="206.82" stroke="#333" stroke-width="0.9" />
<line x1="466.8" y1="206.82" x2="464.8" y2="206.82" stroke="#333" stroke-width="0.9" />
<line x1="414.2" y1="202.68" x2="418" y2="202.68" stroke="#333" stroke-width="0.9" />
<line x1="466.8" y1="202.68" x2="463" y2="202.68" stroke="#333" stroke-width="0.9" />
<text transform="translate(412.4,205.98) scale(1,1.07)" font-size="8.7" text-anchor="end" font-weight="normal" font-style="normal" fill="#000" >0.8</text>
<line x1="414.2" y1="198.54" x2="416.2" y2="198.54" stroke="#333" stroke-width="0.9" />
<line x1="466.8" y1="198.54" x2="464.8" y2="198.54" stroke="#333" stroke-width="0.9" />
<line x1="414.2" y1="194.4" x2="416.2" y2="194.4" stroke="#333" stroke-width="0.9" />
<line x1="466.8" y1="194.4" x2="464.8" y2="194.4" stroke="#333" stroke-width="0.9" />
<path d="M414.73,220.48 C415.34,220.14 416.74,219.1 418.41,218.41 C420.07,217.72 422.62,216.89 424.72,216.34 C426.82,215.79 428.93,215.41 431.03,215.1 C433.14,214.79 432.79,214.58 437.34,214.48 C441.9,214.38 454.88,214.48 458.38,214.48" fill="none" stroke="#5ae8e8" stroke-width="3.2" stroke-linecap="round" stroke-linejoin="round" stroke-linecap="butt"/>
<path d="M460.49,214.48 C461.54,214.48 465.75,214.48 466.8,214.48" fill="none" stroke="#5ae8e8" stroke-width="3.2" stroke-linecap="round" stroke-linejoin="round" stroke-linecap="butt"/>
<line x1="414.2" y1="219.65" x2="466.8" y2="202.68" stroke="#000" stroke-width="0.8" />
<text x="441.1" y="257.9" font-size="9.2" text-anchor="middle"><tspan font-style="italic">T</tspan><tspan font-size="6.8" dy="-4.6">2</tspan><tspan dy="4.6"> (K</tspan><tspan font-size="6.8" dy="-4.6">2</tspan><tspan dy="4.6">)</tspan></text>
<rect x="576.3" y="194.4" width="52.6" height="41.4" fill="none" stroke="#333" stroke-width="0.9"/>
<line x1="576.3" y1="235.8" x2="576.3" y2="232" stroke="#333" stroke-width="0.9" />
<line x1="576.3" y1="194.4" x2="576.3" y2="198.2" stroke="#333" stroke-width="0.9" />
<text transform="translate(576.3,245.7) scale(1,1.07)" font-size="8.7" text-anchor="middle" font-weight="normal" font-style="normal" fill="#000" >0</text>
<line x1="581.56" y1="235.8" x2="581.56" y2="233.8" stroke="#333" stroke-width="0.9" />
<line x1="581.56" y1="194.4" x2="581.56" y2="196.4" stroke="#333" stroke-width="0.9" />
<line x1="586.82" y1="235.8" x2="586.82" y2="233.8" stroke="#333" stroke-width="0.9" />
<line x1="586.82" y1="194.4" x2="586.82" y2="196.4" stroke="#333" stroke-width="0.9" />
<line x1="592.08" y1="235.8" x2="592.08" y2="233.8" stroke="#333" stroke-width="0.9" />
<line x1="592.08" y1="194.4" x2="592.08" y2="196.4" stroke="#333" stroke-width="0.9" />
<line x1="597.34" y1="235.8" x2="597.34" y2="232" stroke="#333" stroke-width="0.9" />
<line x1="597.34" y1="194.4" x2="597.34" y2="198.2" stroke="#333" stroke-width="0.9" />
<text transform="translate(597.34,245.7) scale(1,1.07)" font-size="8.7" text-anchor="middle" font-weight="normal" font-style="normal" fill="#000" >40</text>
<line x1="602.6" y1="235.8" x2="602.6" y2="233.8" stroke="#333" stroke-width="0.9" />
<line x1="602.6" y1="194.4" x2="602.6" y2="196.4" stroke="#333" stroke-width="0.9" />
<line x1="607.86" y1="235.8" x2="607.86" y2="233.8" stroke="#333" stroke-width="0.9" />
<line x1="607.86" y1="194.4" x2="607.86" y2="196.4" stroke="#333" stroke-width="0.9" />
<line x1="613.12" y1="235.8" x2="613.12" y2="233.8" stroke="#333" stroke-width="0.9" />
<line x1="613.12" y1="194.4" x2="613.12" y2="196.4" stroke="#333" stroke-width="0.9" />
<line x1="618.38" y1="235.8" x2="618.38" y2="232" stroke="#333" stroke-width="0.9" />
<line x1="618.38" y1="194.4" x2="618.38" y2="198.2" stroke="#333" stroke-width="0.9" />
<text transform="translate(618.38,245.7) scale(1,1.07)" font-size="8.7" text-anchor="middle" font-weight="normal" font-style="normal" fill="#000" >80</text>
<line x1="623.64" y1="235.8" x2="623.64" y2="233.8" stroke="#333" stroke-width="0.9" />
<line x1="623.64" y1="194.4" x2="623.64" y2="196.4" stroke="#333" stroke-width="0.9" />
<line x1="628.9" y1="235.8" x2="628.9" y2="233.8" stroke="#333" stroke-width="0.9" />
<line x1="628.9" y1="194.4" x2="628.9" y2="196.4" stroke="#333" stroke-width="0.9" />
<line x1="576.3" y1="235.8" x2="580.1" y2="235.8" stroke="#333" stroke-width="0.9" />
<line x1="628.9" y1="235.8" x2="625.1" y2="235.8" stroke="#333" stroke-width="0.9" />
<text transform="translate(574.5,239.1) scale(1,1.07)" font-size="8.7" text-anchor="end" font-weight="normal" font-style="normal" fill="#000" >0</text>
<line x1="576.3" y1="229.89" x2="578.3" y2="229.89" stroke="#333" stroke-width="0.9" />
<line x1="628.9" y1="229.89" x2="626.9" y2="229.89" stroke="#333" stroke-width="0.9" />
<line x1="576.3" y1="223.97" x2="580.1" y2="223.97" stroke="#333" stroke-width="0.9" />
<line x1="628.9" y1="223.97" x2="625.1" y2="223.97" stroke="#333" stroke-width="0.9" />
<text transform="translate(574.5,227.28) scale(1,1.07)" font-size="8.7" text-anchor="end" font-weight="normal" font-style="normal" fill="#000" >0.2</text>
<line x1="576.3" y1="218.06" x2="578.3" y2="218.06" stroke="#333" stroke-width="0.9" />
<line x1="628.9" y1="218.06" x2="626.9" y2="218.06" stroke="#333" stroke-width="0.9" />
<line x1="576.3" y1="212.14" x2="580.1" y2="212.14" stroke="#333" stroke-width="0.9" />
<line x1="628.9" y1="212.14" x2="625.1" y2="212.14" stroke="#333" stroke-width="0.9" />
<text transform="translate(574.5,215.45) scale(1,1.07)" font-size="8.7" text-anchor="end" font-weight="normal" font-style="normal" fill="#000" >0.4</text>
<line x1="576.3" y1="206.23" x2="578.3" y2="206.23" stroke="#333" stroke-width="0.9" />
<line x1="628.9" y1="206.23" x2="626.9" y2="206.23" stroke="#333" stroke-width="0.9" />
<line x1="576.3" y1="200.31" x2="580.1" y2="200.31" stroke="#333" stroke-width="0.9" />
<line x1="628.9" y1="200.31" x2="625.1" y2="200.31" stroke="#333" stroke-width="0.9" />
<text transform="translate(574.5,203.62) scale(1,1.07)" font-size="8.7" text-anchor="end" font-weight="normal" font-style="normal" fill="#000" >0.6</text>
<line x1="576.3" y1="194.4" x2="578.3" y2="194.4" stroke="#333" stroke-width="0.9" />
<line x1="628.9" y1="194.4" x2="626.9" y2="194.4" stroke="#333" stroke-width="0.9" />
<path d="M577.09,234.03 C577.4,233.68 578.18,232.79 578.93,231.96 C579.68,231.12 580.24,230.33 581.56,229 C582.88,227.67 585.07,225.6 586.82,223.97 C588.57,222.35 590.33,220.72 592.08,219.24 C593.83,217.76 595.85,216.14 597.34,215.1 C598.83,214.07 599.71,213.47 601.02,213.03 C602.34,212.59 603.91,212.69 605.23,212.44 C606.55,212.19 607.6,212 608.91,211.55 C610.23,211.11 612.42,210.07 613.12,209.78" fill="none" stroke="#ffcc7a" stroke-width="4.4" stroke-linecap="round" stroke-linejoin="round" stroke-linecap="butt"/>
<path d="M619.43,204.45 C620.13,204.16 622.94,202.98 623.64,202.68" fill="none" stroke="#ffcc7a" stroke-width="3.6" stroke-linecap="round" stroke-linejoin="round" stroke-linecap="butt"/>
<line x1="576.3" y1="229.29" x2="628.9" y2="199.72" stroke="#000" stroke-width="0.8" />
<text x="603.1" y="257.9" font-size="9.2" text-anchor="middle"><tspan font-style="italic">T</tspan><tspan font-size="6.8" dy="-4.6">2</tspan><tspan dy="4.6"> (K</tspan><tspan font-size="6.8" dy="-4.6">2</tspan><tspan dy="4.6">)</tspan></text>
</svg></body></html>
